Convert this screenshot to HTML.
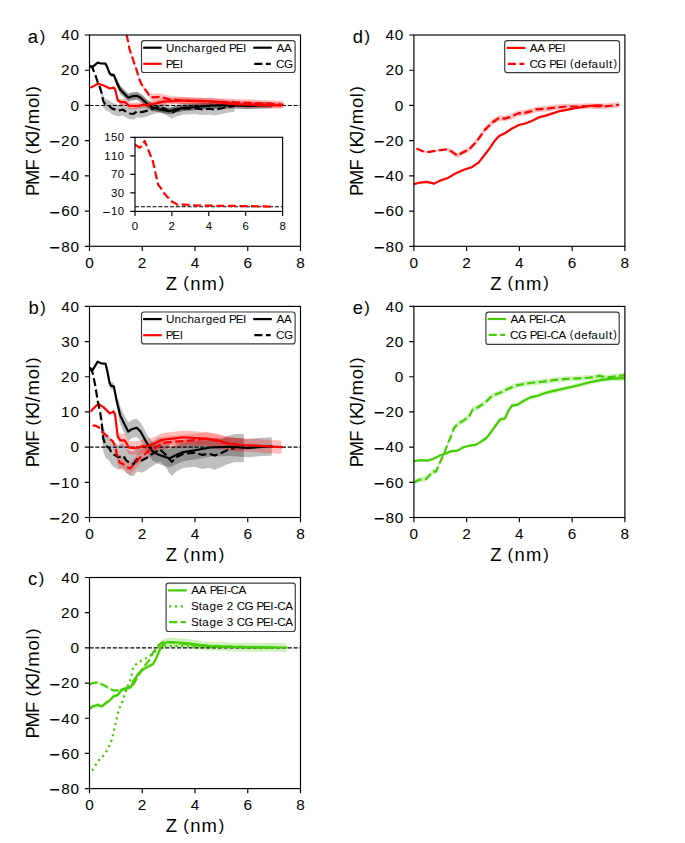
<!DOCTYPE html>
<html><head><meta charset="utf-8"><title>PMF figure</title>
<style>html,body{margin:0;padding:0;background:#fff;}body{width:685px;height:843px;overflow:hidden;font-family:"Liberation Sans",sans-serif;}svg{display:block;}</style>
</head><body>
<svg width="685" height="843" viewBox="0 0 685 843" font-family="'Liberation Sans', sans-serif"><defs><clipPath id="cA"><rect x="89.5" y="35" width="211" height="211.3"/></clipPath><clipPath id="cI"><rect x="135" y="137.3" width="147.6" height="74.1"/></clipPath><clipPath id="cB"><rect x="89.5" y="306.4" width="211" height="211.1"/></clipPath><clipPath id="cC"><rect x="89.5" y="577.5" width="211" height="211.1"/></clipPath><clipPath id="cD"><rect x="413.9" y="35" width="211" height="211.3"/></clipPath><clipPath id="cE"><rect x="413.9" y="306.4" width="211" height="211.1"/></clipPath></defs><rect width="685" height="843" fill="#fff"/><g clip-path="url(#cA)"><path d="M101.37 86.42 L101.63 87.3 L103.22 95.22 L105.59 98.92 L107.3 99.45 L109.02 99.97 L111.66 102.44 L113.77 103.32 L115.35 103.79 L116.93 104.26 L118.51 104.73 L120.01 104.44 L121.5 104.14 L123 103.85 L124.71 105.08 L126.42 106.31 L128.27 107.02 L130.12 107.72 L131.83 107.9 L133.55 108.07 L135.26 106.84 L136.97 105.61 L138.56 105.84 L140.14 106.08 L141.72 106.31 L143.31 105.9 L144.89 105.49 L146.47 105.08 L148.05 104.49 L149.63 103.91 L151.22 103.32 L152.71 102.85 L154.21 102.38 L155.7 101.91 L157.11 101.5 L158.51 101.09 L159.92 100.68 L161.37 101.38 L162.82 102.09 L164.27 102.79 L165.72 103.5 L167.24 104.38 L168.76 105.26 L170.27 106.14 L171.79 107.02 L173.28 106.26 L174.78 105.49 L176.27 104.73 L177.7 104.38 L179.12 104.02 L180.55 103.67 L181.97 103.32 L183.39 102.97 L184.85 102.9 L186.3 102.84 L187.75 102.77 L189.2 102.7 L190.65 102.64 L192.1 102.57 L193.55 102.51 L195 102.44 L196.42 102.65 L197.85 102.86 L199.27 103.07 L200.7 103.29 L202.12 103.5 L203.49 103.39 L204.86 103.29 L206.24 103.18 L207.61 103.07 L208.98 102.97 L210.43 103.19 L211.88 103.41 L213.33 103.63 L214.78 103.85 L216.21 103.57 L217.63 103.29 L219.05 103 L220.48 102.72 L221.9 102.44 L223.35 102.09 L224.8 101.74 L226.25 101.38 L227.71 101.03 L229.08 100.86 L230.45 100.68 L231.82 100.5 L233.19 100.33 L234.56 100.15 L234.56 111.77 L233.19 111.95 L231.82 112.12 L230.45 112.3 L229.08 112.48 L227.71 112.65 L226.25 113 L224.8 113.36 L223.35 113.71 L221.9 114.06 L220.48 114.34 L219.05 114.62 L217.63 114.91 L216.21 115.19 L214.78 115.47 L213.33 115.25 L211.88 115.03 L210.43 114.81 L208.98 114.59 L207.61 114.7 L206.24 114.8 L204.86 114.91 L203.49 115.01 L202.12 115.12 L200.7 114.91 L199.27 114.7 L197.85 114.48 L196.42 114.27 L195 114.06 L193.55 114.13 L192.1 114.19 L190.65 114.26 L189.2 114.33 L187.75 114.39 L186.3 114.46 L184.85 114.52 L183.39 114.59 L181.97 114.94 L180.55 115.29 L179.12 115.65 L177.7 116 L176.27 116.35 L174.78 117.11 L173.28 117.88 L171.79 118.64 L170.27 117.76 L168.76 116.88 L167.24 116 L165.72 115.12 L164.27 114.41 L162.82 113.71 L161.37 113 L159.92 112.3 L158.51 112.71 L157.11 113.12 L155.7 113.53 L154.21 114 L152.71 114.47 L151.22 114.94 L149.63 115.53 L148.05 116.12 L146.47 116.7 L144.89 117.11 L143.31 117.52 L141.72 117.94 L140.14 117.7 L138.56 117.47 L136.97 117.23 L135.26 118.46 L133.55 119.7 L131.83 119.52 L130.12 119.34 L128.27 118.64 L126.42 117.94 L124.71 116.7 L123 115.47 L121.5 115.76 L120.01 116.06 L118.51 116.35 L116.93 115.88 L115.35 115.41 L113.77 114.94 L111.66 114.06 L109.02 111.6 L107.3 111.07 L105.59 110.54 L103.22 106.84 L101.63 98.92 L101.37 98.04 Z" fill="#000" fill-opacity="0.24" stroke="none"/><path d="M107.96 67.34 L109.55 71.45 L111.13 73.03 L112.45 73.12 L113.77 73.21 L115.35 77.17 L116.93 78.84 L118.64 82.28 L120.36 85.71 L121.85 87.24 L123.35 88.76 L124.84 90.29 L126.56 91.96 L128.27 93.64 L129.99 93.02 L131.7 92.4 L133.37 92.17 L135.04 91.93 L136.71 91.7 L138.69 92.67 L140.67 93.64 L142.38 95.22 L144.1 96.81 L145.81 98.39 L147.53 99.97 L149.11 101.09 L150.69 102.21 L152.27 103.32 L153.72 104.64 L155.17 105.08 L156.62 105.52 L158.07 105.96 L159.5 106.21 L160.92 106.45 L162.35 106.7 L163.77 106.95 L165.2 107.19 L166.69 107.43 L168.19 107.66 L169.68 107.9 L171 107.55 L172.32 107.19 L173.64 106.84 L174.96 106.49 L176.36 106.2 L177.77 105.9 L179.18 105.61 L180.58 105.32 L181.99 105.02 L183.39 104.73 L184.85 104.62 L186.3 104.51 L187.75 104.4 L189.2 104.29 L190.65 104.18 L192.1 104.07 L193.55 103.96 L195 103.85 L196.39 103.72 L197.78 103.59 L199.17 103.46 L200.56 103.34 L201.95 103.21 L203.34 103.08 L204.73 102.95 L206.13 102.82 L207.52 102.7 L208.91 102.57 L210.3 102.44 L211.68 102.42 L213.07 102.4 L214.45 102.37 L215.84 102.35 L217.22 102.33 L218.61 102.31 L219.99 102.29 L221.38 102.26 L222.83 102.23 L224.28 102.21 L225.73 102.18 L227.18 102.15 L228.63 102.12 L230.08 102.09 L231.51 102.14 L232.94 102.19 L234.37 102.24 L235.81 102.29 L237.24 102.34 L238.67 102.39 L240.1 102.44 L241.63 102.51 L243.16 102.58 L244.69 102.65 L246.22 102.72 L247.75 102.79 L249.07 102.73 L250.39 102.66 L251.71 102.59 L253.03 102.53 L254.34 102.46 L255.66 102.4 L256.98 102.33 L258.3 102.26 L259.62 102.23 L260.94 102.19 L262.26 102.16 L263.58 102.13 L264.89 102.09 L266.21 102.06 L267.53 102.02 L268.85 101.99 L270.17 101.95 L271.49 101.92 L271.49 108.26 L270.17 108.29 L268.85 108.33 L267.53 108.36 L266.21 108.4 L264.89 108.43 L263.58 108.46 L262.26 108.5 L260.94 108.53 L259.62 108.57 L258.3 108.6 L256.98 108.67 L255.66 108.73 L254.34 108.8 L253.03 108.87 L251.71 108.93 L250.39 109 L249.07 109.07 L247.75 109.13 L246.22 109.06 L244.69 108.99 L243.16 108.92 L241.63 108.85 L240.1 108.78 L238.67 108.73 L237.24 108.68 L235.81 108.63 L234.37 108.58 L232.94 108.53 L231.51 108.48 L230.08 108.43 L228.63 108.46 L227.18 108.49 L225.73 108.51 L224.28 108.54 L222.83 108.57 L221.38 108.6 L219.99 108.62 L218.61 108.65 L217.22 108.67 L215.84 108.69 L214.45 108.71 L213.07 108.73 L211.68 108.76 L210.3 108.78 L208.91 108.91 L207.52 109.04 L206.13 109.16 L204.73 109.29 L203.34 109.42 L201.95 109.55 L200.56 109.68 L199.17 109.8 L197.78 109.93 L196.39 110.06 L195 110.19 L193.55 110.3 L192.1 110.41 L190.65 110.52 L189.2 110.63 L187.75 110.74 L186.3 110.85 L184.85 110.96 L183.39 111.07 L181.99 111.36 L180.58 111.65 L179.18 111.95 L177.77 112.24 L176.36 112.54 L174.96 112.83 L173.64 113.18 L172.32 113.53 L171 113.89 L169.68 114.24 L168.19 114 L166.69 113.77 L165.2 113.53 L163.77 113.29 L162.35 113.04 L160.92 112.79 L159.5 112.55 L158.07 112.3 L156.62 111.86 L155.17 111.42 L153.72 110.98 L152.27 111.42 L150.69 110.3 L149.11 109.19 L147.53 108.07 L145.81 106.49 L144.1 104.91 L142.38 103.32 L140.67 101.74 L138.69 100.77 L136.71 99.8 L135.04 100.03 L133.37 100.27 L131.7 100.5 L129.99 101.12 L128.27 101.74 L126.56 100.06 L124.84 98.39 L123.35 96.86 L121.85 95.34 L120.36 93.81 L118.64 90.38 L116.93 86.94 L115.35 80.69 L113.77 76.73 L112.45 76.64 L111.13 76.56 L109.55 74.97 L107.96 70.86 Z" fill="#000" fill-opacity="0.42" stroke="none"/><path d="M113.24 86.3 L113.5 86.24 L115.08 87.65 L116.4 93.2 L117.72 98.74 L120.36 98.92 L121.85 98.92 L123.35 98.92 L124.84 98.92 L125.37 99.27 L127.08 100.86 L128.8 102.44 L130.38 102.56 L131.96 102.67 L133.55 102.79 L135 102.7 L136.45 102.62 L137.9 102.53 L139.35 102.44 L141.06 102 L142.78 101.56 L144.62 101.74 L146.47 101.91 L148.05 101.62 L149.63 101.32 L151.22 101.03 L152.71 100.74 L154.21 100.44 L155.7 100.15 L157.15 99.8 L158.6 99.45 L160.05 99.09 L161.5 98.74 L162.95 98.61 L164.41 98.48 L165.86 98.35 L167.31 98.21 L168.8 98.16 L170.3 98.1 L171.79 98.04 L173.37 97.95 L174.96 97.86 L176.36 97.77 L177.77 97.69 L179.18 97.6 L180.58 97.51 L181.99 97.42 L183.39 97.33 L184.85 97.38 L186.3 97.42 L187.75 97.47 L189.2 97.51 L190.65 97.55 L192.1 97.6 L193.55 97.64 L195 97.69 L196.45 97.73 L197.9 97.77 L199.35 97.82 L200.8 97.86 L202.25 97.91 L203.7 97.95 L205.15 97.99 L206.61 98.04 L208.09 98.15 L209.57 98.26 L211.06 98.37 L212.54 98.48 L214.02 98.59 L215.51 98.7 L216.99 98.81 L218.47 98.92 L219.92 99.14 L221.38 99.36 L222.83 99.58 L224.28 99.8 L225.73 100.02 L227.18 100.24 L228.63 100.46 L230.08 100.68 L231.51 100.75 L232.94 100.83 L234.37 100.91 L235.81 100.98 L237.24 101.06 L238.67 101.13 L240.1 101.21 L241.54 101.23 L242.97 101.25 L244.41 101.27 L245.85 101.29 L247.28 101.31 L248.72 101.32 L250.15 101.34 L251.59 101.36 L253.03 101.38 L254.34 101.44 L255.66 101.49 L256.98 101.54 L258.3 101.59 L259.62 101.65 L260.94 101.7 L262.26 101.75 L263.58 101.81 L264.89 101.86 L266.21 101.91 L267.6 101.94 L268.99 101.98 L270.38 102.01 L271.78 102.04 L273.17 102.07 L274.56 102.1 L275.95 102.14 L277.34 102.17 L278.73 102.2 L280.12 102.23 L281.51 102.26 L281.51 108.6 L280.12 108.57 L278.73 108.54 L277.34 108.51 L275.95 108.47 L274.56 108.44 L273.17 108.41 L271.78 108.38 L270.38 108.35 L268.99 108.31 L267.6 108.28 L266.21 108.25 L264.89 108.2 L263.58 108.15 L262.26 108.09 L260.94 108.04 L259.62 107.99 L258.3 107.93 L256.98 107.88 L255.66 107.83 L254.34 107.78 L253.03 107.72 L251.59 107.7 L250.15 107.68 L248.72 107.66 L247.28 107.64 L245.85 107.62 L244.41 107.61 L242.97 107.59 L241.54 107.57 L240.1 107.55 L238.67 107.47 L237.24 107.4 L235.81 107.32 L234.37 107.24 L232.94 107.17 L231.51 107.09 L230.08 107.02 L228.63 106.8 L227.18 106.58 L225.73 106.36 L224.28 106.14 L222.83 105.92 L221.38 105.7 L219.92 105.48 L218.47 105.26 L216.99 105.15 L215.51 105.04 L214.02 104.93 L212.54 104.82 L211.06 104.71 L209.57 104.6 L208.09 104.49 L206.61 104.38 L205.15 104.33 L203.7 104.29 L202.25 104.24 L200.8 104.2 L199.35 104.16 L197.9 104.11 L196.45 104.07 L195 104.02 L193.55 103.98 L192.1 103.94 L190.65 103.89 L189.2 103.85 L187.75 103.8 L186.3 103.76 L184.85 103.72 L183.39 103.67 L181.99 103.76 L180.58 103.85 L179.18 103.94 L177.77 104.02 L176.36 104.11 L174.96 104.2 L173.37 104.29 L171.79 104.38 L170.3 104.44 L168.8 104.49 L167.31 104.55 L165.86 104.68 L164.41 104.82 L162.95 104.95 L161.5 105.08 L160.05 105.43 L158.6 105.79 L157.15 106.14 L155.7 106.49 L154.21 106.78 L152.71 107.08 L151.22 107.37 L149.63 107.66 L148.05 107.96 L146.47 108.25 L144.62 108.07 L142.78 107.9 L141.06 108.34 L139.35 108.78 L137.9 108.87 L136.45 108.96 L135 109.04 L133.55 109.13 L131.96 109.01 L130.38 108.9 L128.8 108.78 L127.08 107.19 L125.37 105.61 L124.84 105.26 L123.35 105.26 L121.85 105.26 L120.36 105.26 L117.72 101.56 L116.4 96.01 L115.08 90.47 L113.5 89.06 L113.24 89.12 Z" fill="#ff0000" fill-opacity="0.3" stroke="none"/><path d="M123.79 23.99 L124.84 27.08 L126.82 33.94 L128.14 39.93 L129.46 46.97 L131.65 54.02 L132.97 57.54 L135.16 64.58 L136.9 68.98 L138.66 75.85 L141.27 82.01 L143.03 84.66 L144.78 87.3 L146.31 89.28 L147.84 91.26 L149.63 95.22 L151.13 93.58 L152.62 93.69 L154.12 93.81 L155.64 93.68 L157.15 93.55 L158.67 93.42 L160.19 93.28 L161.59 93.67 L163 94.05 L164.41 94.43 L165.81 94.81 L167.22 95.19 L168.62 95.57 L169.94 95.71 L171.26 95.85 L172.58 96 L173.9 96.14 L175.22 96.28 L176.54 96.42 L177.86 96.56 L179.18 96.7 L180.49 96.84 L181.81 96.98 L183.13 97.05 L184.45 97.12 L185.77 97.19 L187.09 97.26 L188.41 97.33 L189.72 97.4 L191.04 97.47 L192.36 97.54 L193.68 97.62 L195 97.69 L196.32 97.72 L197.64 97.76 L198.96 97.79 L200.28 97.83 L201.59 97.86 L202.91 97.9 L204.23 97.93 L205.55 97.97 L206.87 98 L208.19 98.04 L209.51 98.07 L210.82 98.11 L212.14 98.14 L213.46 98.18 L214.78 98.21 L216.1 98.25 L217.42 98.28 L218.74 98.32 L220.06 98.35 L221.38 98.39 L222.69 98.43 L224.01 98.48 L225.33 98.52 L226.65 98.57 L227.97 98.61 L229.29 98.65 L230.61 98.7 L231.93 98.74 L233.24 98.79 L234.56 98.83 L235.88 98.87 L237.2 98.92 L238.52 98.96 L239.84 99.01 L241.16 99.05 L242.47 99.09 L243.79 99.14 L245.11 99.18 L246.43 99.23 L247.75 99.27 L249.07 99.33 L250.39 99.39 L251.71 99.46 L253.03 99.52 L254.34 99.58 L255.66 99.64 L256.98 99.7 L258.3 99.76 L259.62 99.83 L260.94 99.89 L262.26 99.95 L263.57 100.01 L264.89 100.07 L266.21 100.13 L267.53 100.19 L268.85 100.26 L270.17 100.32 L271.49 100.38 L272.81 100.44 L274.12 100.5 L275.48 100.58 L276.84 100.65 L278.19 100.73 L279.55 100.8 L280.91 100.88 L282.26 100.96 L283.62 101.03 L283.62 108.07 L282.26 108 L280.91 107.92 L279.55 107.85 L278.19 107.77 L276.84 107.7 L275.48 107.62 L274.12 107.55 L272.81 107.48 L271.49 107.42 L270.17 107.36 L268.85 107.3 L267.53 107.24 L266.21 107.18 L264.89 107.11 L263.57 107.05 L262.26 106.99 L260.94 106.93 L259.62 106.87 L258.3 106.81 L256.98 106.75 L255.66 106.68 L254.34 106.62 L253.03 106.56 L251.71 106.5 L250.39 106.44 L249.07 106.38 L247.75 106.31 L246.43 106.27 L245.11 106.23 L243.79 106.18 L242.47 106.14 L241.16 106.09 L239.84 106.05 L238.52 106.01 L237.2 105.96 L235.88 105.92 L234.56 105.87 L233.24 105.83 L231.93 105.79 L230.61 105.74 L229.29 105.7 L227.97 105.65 L226.65 105.61 L225.33 105.57 L224.01 105.52 L222.69 105.48 L221.38 105.43 L220.06 105.4 L218.74 105.36 L217.42 105.33 L216.1 105.29 L214.78 105.26 L213.46 105.22 L212.14 105.19 L210.82 105.15 L209.51 105.12 L208.19 105.08 L206.87 105.05 L205.55 105.01 L204.23 104.98 L202.91 104.94 L201.59 104.91 L200.28 104.87 L198.96 104.83 L197.64 104.8 L196.32 104.76 L195 104.73 L193.68 104.66 L192.36 104.59 L191.04 104.52 L189.72 104.45 L188.41 104.38 L187.09 104.31 L185.77 104.24 L184.45 104.17 L183.13 104.1 L181.81 104.02 L180.49 103.88 L179.18 103.74 L177.86 103.6 L176.54 103.46 L175.22 103.32 L173.9 103.18 L172.58 103.04 L171.26 102.9 L169.94 102.76 L168.62 102.62 L167.22 102.23 L165.81 101.85 L164.41 101.47 L163 101.09 L161.59 100.71 L160.19 100.33 L158.67 100.46 L157.15 100.59 L155.64 100.72 L154.12 100.86 L152.62 100.74 L151.13 100.62 L149.63 98.74 L147.84 94.78 L146.31 92.8 L144.78 90.82 L143.03 88.18 L141.27 85.54 L138.66 79.37 L136.9 72.51 L135.16 68.1 L132.97 61.06 L131.65 57.54 L129.46 50.5 L128.14 43.45 L126.82 37.47 L124.84 30.6 L123.79 27.52 Z" fill="#ff0000" fill-opacity="0.25" stroke="none"/><path d="M89.5 105.43 H300.5" stroke="#000" stroke-width="1.1" stroke-dasharray="4.07 1.76" fill="none"/><path d="M89.5 66.17 L90.29 65.99 L92.4 67.05 L94.51 65.29 L97.68 62.65 L101.11 63.53 L105.59 63.7 L107.17 67.05 L109.55 73.21 L111.13 74.79 L113.77 74.97 L116.93 82.89 L120.36 89.76 L124.84 94.34 L128.27 97.69 L131.7 96.45 L136.71 95.75 L140.67 97.69 L144.1 100.86 L147.53 104.02 L152.27 107.37 L158.07 109.13 L165.2 110.36 L169.68 111.07 L174.96 109.66 L183.39 107.9 L195 107.02 L210.3 105.61 L221.38 105.43 L230.08 105.26 L240.1 105.61 L247.75 105.96 L258.3 105.43 L271.75 105.08" fill="none" stroke="#000000" stroke-width="2.18" stroke-linejoin="round" stroke-linecap="square"/><path d="M91.35 87.3 L91.61 86.94 L93.98 85.89 L98.2 83.78 L103.74 85.54 L109.81 88.53 L113.5 87.65 L115.08 89.06 L117.72 100.15 L120.36 102.09 L124.84 102.09 L125.37 102.44 L128.8 105.61 L133.55 105.96 L139.35 105.61 L142.78 104.73 L146.47 105.08 L151.22 104.2 L155.7 103.32 L161.5 101.91 L167.31 101.38 L171.79 101.21 L174.96 101.03 L183.39 100.5 L195 100.86 L206.61 101.21 L218.47 102.09 L230.08 103.85 L240.1 104.38 L253.03 104.55 L266.21 105.08 L281.51 105.43" fill="none" stroke="#ff0000" stroke-width="2.18" stroke-linejoin="round" stroke-linecap="square"/><path d="M89.5 65.64 L90.29 65.99 L92.67 68.28 L95.04 74.09 L96.89 79.73 L98.47 84.3 L100.05 87.82 L101.63 93.11 L103.22 101.03 L105.59 104.73 L109.02 105.79 L111.66 108.25 L113.77 109.13 L118.51 110.54 L123 109.66 L126.42 112.12 L130.12 113.53 L133.55 113.89 L136.97 111.42 L141.72 112.12 L146.47 110.89 L151.22 109.13 L155.7 107.72 L159.92 106.49 L165.72 109.31 L171.79 112.83 L176.27 110.54 L183.39 108.78 L195 108.25 L202.12 109.31 L208.98 108.78 L214.78 109.66 L221.9 108.25 L227.71 106.84 L234.56 105.96" fill="none" stroke="#000000" stroke-width="2.18" stroke-linejoin="round" stroke-linecap="butt" stroke-dasharray="8.07 3.49"/><path d="M89.5 -128.76 L91.35 -128.05 L96.09 -119.07 L100.05 -126.64 L103.22 -144.61 L106.38 -125.06 L110.6 -97.06 L114.82 -69.24 L116.93 -47.05 L119.04 -19.23 L121.15 4.54 L122.73 22.67 L124.84 28.84 L126.82 35.7 L128.14 41.69 L129.46 48.73 L131.65 55.78 L132.97 59.3 L135.16 66.34 L136.9 70.74 L138.66 77.61 L141.27 83.78 L144.78 89.06 L147.84 93.02 L149.63 96.98 L154.12 97.33 L160.19 96.81 L168.62 99.09 L181.81 100.5 L195 101.21 L221.38 101.91 L247.75 102.79 L274.12 104.02 L283.62 104.55" fill="none" stroke="#ff0000" stroke-width="2.18" stroke-linejoin="round" stroke-linecap="butt" stroke-dasharray="8.07 3.49"/></g><rect x="89.5" y="35" width="211" height="211.3" fill="none" stroke="#000" stroke-width="1.16"/><path d="M89.5 246.3 V251 M142.25 246.3 V251 M195 246.3 V251 M247.75 246.3 V251 M300.5 246.3 V251 M89.5 35 H84.8 M89.5 70.22 H84.8 M89.5 105.43 H84.8 M89.5 140.65 H84.8 M89.5 175.87 H84.8 M89.5 211.08 H84.8 M89.5 246.3 H84.8" stroke="#000" stroke-width="1.16" fill="none"/><text transform="translate(84.89 267.7)" x="0.34" font-size="15.37" fill="#000">0</text><text transform="translate(137.64 267.7)" x="0.14" font-size="15.37" fill="#000">2</text><text transform="translate(190.39 267.7)" x="0.33" font-size="15.37" fill="#000">4</text><text transform="translate(243.14 267.7)" x="0.34" font-size="15.37" fill="#000">6</text><text transform="translate(295.89 267.7)" x="0.34" font-size="15.37" fill="#000">8</text><text transform="translate(60.85 40.28)" x="0.33 9.56" font-size="15.37" fill="#000">40</text><text transform="translate(60.85 75.49)" x="0.14 9.56" font-size="15.37" fill="#000">20</text><text transform="translate(70.07 110.71)" x="0.34" font-size="15.37" fill="#000">0</text><text transform="translate(48.7 145.93)" font-size="15.37" fill="#000"><tspan x="0.62" dy="2.16" font-size="18.68">−</tspan><tspan x="12.29 21.71" dy="-2.16">20</tspan></text><text transform="translate(48.7 181.14)" font-size="15.37" fill="#000"><tspan x="0.62" dy="2.16" font-size="18.68">−</tspan><tspan x="12.48 21.71" dy="-2.16">40</tspan></text><text transform="translate(48.7 216.36)" font-size="15.37" fill="#000"><tspan x="0.62" dy="2.16" font-size="18.68">−</tspan><tspan x="12.48 21.71" dy="-2.16">60</tspan></text><text transform="translate(48.7 251.58)" font-size="15.37" fill="#000"><tspan x="0.62" dy="2.16" font-size="18.68">−</tspan><tspan x="12.49 21.71" dy="-2.16">80</tspan></text><rect x="141.5" y="40.6" width="153.6" height="31.9" rx="2.5" ry="2.5" fill="#fff" fill-opacity="0.8" stroke="#3a3a3a" stroke-width="1.16"/><path d="M144.2 47.7 H160.6" stroke="#000000" stroke-width="2.18" stroke-linecap="square" fill="none"/><text transform="translate(166.15 51.71)" x="-0.18 8.32 15 21.33 27.76 35.32 39.49 46.26 53.04 59.97 62.95 69.52 76.93" font-size="11.66" fill="#000">Uncharged PEI</text><path d="M144.2 63.8 H160.6" stroke="#ff0000" stroke-width="2.18" stroke-linecap="square" fill="none"/><text transform="translate(166.15 67.81)" x="-0.39 6.18 13.59" font-size="11.66" fill="#000">PEI</text><path d="M254.3 47.7 H270.7" stroke="#000000" stroke-width="2.18" stroke-linecap="square" fill="none"/><text transform="translate(276.5 51.71)" x="-0.13 7.4" font-size="11.66" fill="#000">AA</text><path d="M254.3 63.8 H270.7" stroke="#000000" stroke-width="2.18" stroke-dasharray="8.07 3.49" fill="none"/><text transform="translate(276.5 67.81)" x="-0.44 7.41" font-size="11.66" fill="#000">CG</text><rect x="135" y="137.3" width="147.6" height="74.1" fill="#fff"/><g clip-path="url(#cI)"><path d="M135 206.77 H282.6" stroke="#000" stroke-width="1.1" stroke-dasharray="4.07 1.76" fill="none"/><path d="M135 145.17 L136.29 145.36 L139.61 147.72 L142.38 145.73 L144.59 141 L146.81 146.15 L149.76 153.51 L152.71 160.83 L154.19 166.66 L155.66 173.98 L157.14 180.23 L158.25 185 L159.72 186.62 L161.11 188.43 L162.03 190 L162.95 191.86 L164.48 193.71 L165.41 194.63 L166.94 196.49 L168.15 197.65 L169.39 199.45 L171.22 201.07 L173.67 202.46 L175.81 203.5 L177.07 204.55 L180.2 204.64 L184.45 204.5 L190.35 205.1 L199.58 205.47 L208.8 205.66 L227.25 205.84 L245.7 206.07 L264.15 206.4 L270.79 206.54" fill="none" stroke="#ff0000" stroke-width="2.18" stroke-linejoin="round" stroke-linecap="butt" stroke-dasharray="8.07 3.49"/></g><rect x="135" y="137.3" width="147.6" height="74.1" fill="none" stroke="#000" stroke-width="1.16"/><path d="M135 211.4 V216.1 M171.9 211.4 V216.1 M208.8 211.4 V216.1 M245.7 211.4 V216.1 M282.6 211.4 V216.1 M135 137.3 H130.3 M135 155.83 H130.3 M135 174.35 H130.3 M135 192.88 H130.3 M135 211.4 H130.3" stroke="#000" stroke-width="1.16" fill="none"/><text transform="translate(131.6 230)" x="0.25" font-size="11.34" fill="#000">0</text><text transform="translate(168.5 230)" x="0.11" font-size="11.34" fill="#000">2</text><text transform="translate(205.4 230)" x="0.25" font-size="11.34" fill="#000">4</text><text transform="translate(242.3 230)" x="0.25" font-size="11.34" fill="#000">6</text><text transform="translate(279.2 230)" x="0.25" font-size="11.34" fill="#000">8</text><text transform="translate(103.98 141.19)" x="0.19 7.02 13.86" font-size="11.34" fill="#000">150</text><text transform="translate(103.98 159.72)" x="0.19 7 13.86" font-size="11.34" fill="#000">110</text><text transform="translate(110.78 178.24)" x="0.23 7.06" font-size="11.34" fill="#000">70</text><text transform="translate(110.78 196.77)" x="0.26 7.06" font-size="11.34" fill="#000">30</text><text transform="translate(101.82 215.29)" font-size="11.34" fill="#000"><tspan x="0.46" dy="1.73" font-size="13.78">−</tspan><tspan x="9.16 16.02" dy="-1.73">10</tspan></text><g clip-path="url(#cB)"><path d="M101.37 408.43 L101.63 410.19 L103.22 426.02 L105.59 433.41 L107.3 434.47 L109.02 435.52 L111.66 440.45 L113.77 442.21 L115.35 443.15 L116.93 444.08 L118.51 445.02 L120.01 444.44 L121.5 443.85 L123 443.26 L124.71 445.73 L126.42 448.19 L128.27 449.6 L130.12 451 L131.83 451.36 L133.55 451.71 L135.26 449.24 L136.97 446.78 L138.56 447.25 L140.14 447.72 L141.72 448.19 L143.31 447.37 L144.89 446.55 L146.47 445.73 L148.05 444.55 L149.63 443.38 L151.22 442.21 L152.71 441.27 L154.21 440.33 L155.7 439.39 L157.11 438.57 L158.51 437.75 L159.92 436.93 L161.37 438.34 L162.82 439.74 L164.27 441.15 L165.72 442.56 L167.24 444.32 L168.76 444.32 L170.27 446.08 L171.79 447.84 L173.28 446.31 L174.78 444.79 L176.27 443.26 L177.7 442.56 L179.12 441.86 L180.55 441.15 L181.97 440.45 L183.39 439.74 L184.85 439.61 L186.3 439.48 L187.75 439.35 L189.2 439.22 L190.65 439.09 L192.1 438.95 L193.55 438.82 L195 438.69 L196.42 439.11 L197.85 439.53 L199.27 439.96 L200.7 440.38 L202.12 440.8 L203.49 440.59 L204.86 440.38 L206.24 440.17 L207.61 439.96 L208.98 439.74 L210.43 440.18 L211.88 440.62 L213.33 441.06 L214.78 441.5 L216.21 440.94 L217.63 440.38 L219.05 439.82 L220.48 439.25 L221.9 438.69 L223.35 437.99 L224.8 437.28 L226.25 436.58 L227.71 435.87 L229.08 435.52 L230.45 435.17 L231.82 434.82 L233.19 434.47 L234.56 434.12 L236.1 434.12 L237.64 434.12 L239.18 434.12 L240.72 434.12 L242.26 434.12 L243.79 434.12 L243.79 462.26 L242.26 462.26 L240.72 462.26 L239.18 462.26 L237.64 462.26 L236.1 462.26 L234.56 462.26 L233.19 462.61 L231.82 462.97 L230.45 463.32 L229.08 463.67 L227.71 464.02 L226.25 464.72 L224.8 465.43 L223.35 466.13 L221.9 466.84 L220.48 467.4 L219.05 467.96 L217.63 468.52 L216.21 469.09 L214.78 469.65 L213.33 469.21 L211.88 468.77 L210.43 468.33 L208.98 467.89 L207.61 468.1 L206.24 468.31 L204.86 468.52 L203.49 468.74 L202.12 468.95 L200.7 468.52 L199.27 468.1 L197.85 467.68 L196.42 467.26 L195 466.84 L193.55 466.97 L192.1 467.1 L190.65 467.23 L189.2 467.36 L187.75 467.5 L186.3 467.63 L184.85 467.76 L183.39 467.89 L181.97 468.6 L180.55 469.3 L179.12 470 L177.7 470.71 L176.27 471.41 L174.78 472.93 L173.28 474.46 L171.79 475.98 L170.27 474.22 L168.76 472.47 L167.24 468.95 L165.72 467.19 L164.27 465.78 L162.82 464.37 L161.37 462.97 L159.92 461.56 L158.51 462.38 L157.11 463.2 L155.7 464.02 L154.21 464.96 L152.71 465.9 L151.22 466.84 L149.63 468.01 L148.05 469.18 L146.47 470.35 L144.89 471.18 L143.31 472 L141.72 472.82 L140.14 472.35 L138.56 471.88 L136.97 471.41 L135.26 473.87 L133.55 476.34 L131.83 475.98 L130.12 475.63 L128.27 474.22 L126.42 472.82 L124.71 470.35 L123 467.89 L121.5 468.48 L120.01 469.06 L118.51 469.65 L116.93 468.71 L115.35 467.77 L113.77 466.84 L111.66 465.08 L109.02 460.15 L107.3 459.1 L105.59 458.04 L103.22 450.65 L101.63 434.82 L101.37 433.06 Z" fill="#000" fill-opacity="0.25" stroke="none"/><path d="M107.96 371.02 L109.55 379.23 L111.13 382.4 L112.45 382.57 L113.77 382.75 L115.35 390.66 L116.93 398.58 L118.64 399.81 L120.36 406.67 L121.85 409.72 L123.35 412.77 L124.84 415.82 L126.56 419.16 L128.27 422.5 L129.99 421.27 L131.7 420.04 L133.37 419.57 L135.04 419.1 L136.71 418.63 L138.69 420.57 L140.67 422.5 L142.38 425.67 L144.1 428.84 L145.81 432 L147.53 435.17 L149.11 437.4 L150.69 439.63 L152.27 441.86 L153.72 442.74 L155.17 443.62 L156.62 444.49 L158.07 445.37 L159.5 445.87 L160.92 446.36 L162.35 446.85 L163.77 447.34 L165.2 447.84 L166.69 448.31 L168.19 448.78 L169.68 449.24 L171 448.54 L172.32 447.84 L173.64 447.13 L174.96 446.43 L176.36 445.84 L177.77 445.26 L179.18 444.67 L180.58 444.08 L181.99 443.5 L183.39 442.91 L184.85 442.69 L186.3 442.47 L187.75 442.25 L189.2 442.03 L190.65 441.81 L192.1 441.59 L193.55 441.37 L195 441.15 L196.39 440.9 L197.78 440.64 L199.17 440.38 L200.56 440.13 L201.95 439.87 L203.34 439.62 L204.73 439.36 L206.13 439.11 L207.52 438.85 L208.91 438.59 L210.3 438.34 L211.68 438.29 L213.07 438.25 L214.45 438.21 L215.84 438.16 L217.22 438.12 L218.61 438.07 L219.99 438.03 L221.38 437.99 L222.83 437.93 L224.28 437.87 L225.73 437.81 L227.18 437.75 L228.63 437.69 L230.08 437.63 L231.51 437.73 L232.94 437.83 L234.37 437.94 L235.81 438.04 L237.24 438.14 L238.67 438.24 L240.1 438.34 L241.63 438.48 L243.16 438.62 L244.69 438.76 L246.22 438.9 L247.75 439.04 L249.07 438.91 L250.39 438.78 L251.71 438.65 L253.03 438.51 L254.34 438.38 L255.66 438.25 L256.98 438.12 L258.3 437.99 L259.65 437.92 L260.99 437.84 L262.34 437.77 L263.68 437.7 L265.03 437.63 L266.37 437.56 L267.72 437.49 L269.06 437.42 L270.41 437.35 L271.75 437.28 L271.75 455.58 L270.41 455.65 L269.06 455.72 L267.72 455.79 L266.37 455.86 L265.03 455.93 L263.68 456 L262.34 456.07 L260.99 456.14 L259.65 456.21 L258.3 456.28 L256.98 456.41 L255.66 456.54 L254.34 456.68 L253.03 456.81 L251.71 456.94 L250.39 457.07 L249.07 457.2 L247.75 457.34 L246.22 457.2 L244.69 457.06 L243.16 456.91 L241.63 456.77 L240.1 456.63 L238.67 456.53 L237.24 456.43 L235.81 456.33 L234.37 456.23 L232.94 456.13 L231.51 456.03 L230.08 455.93 L228.63 455.99 L227.18 456.05 L225.73 456.11 L224.28 456.16 L222.83 456.22 L221.38 456.28 L219.99 456.32 L218.61 456.37 L217.22 456.41 L215.84 456.46 L214.45 456.5 L213.07 456.54 L211.68 456.59 L210.3 456.63 L208.91 456.89 L207.52 457.14 L206.13 457.4 L204.73 457.66 L203.34 457.91 L201.95 458.17 L200.56 458.42 L199.17 458.68 L197.78 458.94 L196.39 459.19 L195 459.45 L193.55 459.67 L192.1 459.89 L190.65 460.11 L189.2 460.33 L187.75 460.55 L186.3 460.77 L184.85 460.99 L183.39 461.21 L181.99 461.79 L180.58 462.38 L179.18 462.97 L177.77 463.55 L176.36 464.14 L174.96 464.73 L173.64 465.43 L172.32 466.13 L171 466.84 L169.68 467.54 L168.19 467.07 L166.69 466.6 L165.2 466.13 L163.77 465.64 L162.35 465.15 L160.92 464.65 L159.5 464.16 L158.07 463.67 L156.62 462.79 L155.17 461.91 L153.72 461.03 L152.27 460.15 L150.69 457.92 L149.11 455.69 L147.53 453.47 L145.81 450.3 L144.1 447.13 L142.38 443.97 L140.67 440.8 L138.69 438.87 L136.71 436.93 L135.04 437.4 L133.37 437.87 L131.7 438.34 L129.99 439.57 L128.27 440.8 L126.56 437.46 L124.84 434.12 L123.35 431.07 L121.85 428.02 L120.36 424.97 L118.64 418.11 L116.93 405.62 L115.35 397.7 L113.77 389.78 L112.45 389.61 L111.13 389.43 L109.55 386.27 L107.96 378.06 Z" fill="#000" fill-opacity="0.25" stroke="none"/><path d="M113.24 408.56 L113.5 408.43 L115.08 411.25 L116.4 422.33 L117.72 433.41 L120.36 433.76 L121.85 433.76 L123.35 433.76 L124.84 433.76 L125.37 434.47 L127.08 437.63 L128.8 440.8 L130.38 441.03 L131.96 441.27 L133.55 441.5 L135 441.33 L136.45 441.15 L137.9 440.98 L139.35 440.8 L141.06 439.92 L142.78 439.04 L144.62 439.39 L146.47 439.74 L148.05 439.16 L149.63 438.57 L151.22 437.99 L152.71 437.4 L154.21 436.81 L155.7 436.23 L157.15 435.52 L158.6 434.82 L160.05 434.12 L161.5 433.41 L162.95 433.15 L164.41 432.88 L165.86 432.62 L167.31 432.36 L168.8 432.24 L170.3 432.12 L171.79 432 L173.37 431.83 L174.96 431.65 L176.36 431.48 L177.77 431.3 L179.18 431.12 L180.58 430.95 L181.99 430.77 L183.39 430.6 L184.85 430.69 L186.3 430.77 L187.75 430.86 L189.2 430.95 L190.65 431.04 L192.1 431.12 L193.55 431.21 L195 431.3 L196.45 431.39 L197.9 431.48 L199.35 431.56 L200.8 431.65 L202.25 431.74 L203.7 431.83 L205.15 431.92 L206.61 432 L208.09 432.22 L209.57 432.44 L211.06 432.66 L212.54 432.88 L214.02 433.1 L215.51 433.32 L216.99 433.54 L218.47 433.76 L219.92 434.2 L221.38 434.64 L222.83 435.08 L224.28 435.52 L225.73 435.96 L227.18 436.4 L228.63 436.84 L230.08 437.28 L231.51 437.43 L232.94 437.58 L234.37 437.73 L235.81 437.89 L237.24 438.04 L238.67 438.19 L240.1 438.34 L241.54 438.38 L242.97 438.42 L244.41 438.45 L245.85 438.49 L247.28 438.53 L248.72 438.57 L250.15 438.61 L251.59 438.65 L253.03 438.69 L254.34 438.79 L255.66 438.9 L256.98 439.01 L258.3 439.11 L259.62 439.22 L260.94 439.32 L262.26 439.43 L263.58 439.53 L264.89 439.64 L266.21 439.74 L267.6 439.81 L268.99 439.87 L270.38 439.94 L271.78 440 L273.17 440.06 L274.56 440.13 L275.95 440.19 L277.34 440.26 L278.73 440.32 L280.12 440.38 L281.51 440.45 L281.51 453.82 L280.12 453.75 L278.73 453.69 L277.34 453.63 L275.95 453.56 L274.56 453.5 L273.17 453.43 L271.78 453.37 L270.38 453.31 L268.99 453.24 L267.6 453.18 L266.21 453.11 L264.89 453.01 L263.58 452.9 L262.26 452.8 L260.94 452.69 L259.62 452.59 L258.3 452.48 L256.98 452.38 L255.66 452.27 L254.34 452.16 L253.03 452.06 L251.59 452.02 L250.15 451.98 L248.72 451.94 L247.28 451.9 L245.85 451.86 L244.41 451.82 L242.97 451.79 L241.54 451.75 L240.1 451.71 L238.67 451.56 L237.24 451.41 L235.81 451.25 L234.37 451.1 L232.94 450.95 L231.51 450.8 L230.08 450.65 L228.63 450.21 L227.18 449.77 L225.73 449.33 L224.28 448.89 L222.83 448.45 L221.38 448.01 L219.92 447.57 L218.47 447.13 L216.99 446.91 L215.51 446.69 L214.02 446.47 L212.54 446.25 L211.06 446.03 L209.57 445.81 L208.09 445.59 L206.61 445.37 L205.15 445.29 L203.7 445.2 L202.25 445.11 L200.8 445.02 L199.35 444.93 L197.9 444.85 L196.45 444.76 L195 444.67 L193.55 444.58 L192.1 444.49 L190.65 444.41 L189.2 444.32 L187.75 444.23 L186.3 444.14 L184.85 444.05 L183.39 443.97 L181.99 444.14 L180.58 444.32 L179.18 444.49 L177.77 444.67 L176.36 444.85 L174.96 445.02 L173.37 445.2 L171.79 445.37 L170.3 445.49 L168.8 445.61 L167.31 445.73 L165.86 445.99 L164.41 446.25 L162.95 446.52 L161.5 446.78 L160.05 447.49 L158.6 448.19 L157.15 448.89 L155.7 449.6 L154.21 450.18 L152.71 450.77 L151.22 451.36 L149.63 451.94 L148.05 452.53 L146.47 453.11 L144.62 452.76 L142.78 452.41 L141.06 453.29 L139.35 454.17 L137.9 454.35 L136.45 454.52 L135 454.7 L133.55 454.87 L131.96 454.64 L130.38 454.4 L128.8 454.17 L127.08 451 L125.37 447.84 L124.84 447.13 L123.35 447.13 L121.85 447.13 L120.36 447.13 L117.72 439.74 L116.4 428.66 L115.08 417.58 L113.5 414.76 L113.24 414.89 Z" fill="#ff0000" fill-opacity="0.25" stroke="none"/><path d="M113.24 439.51 L114.82 442.56 L116.67 447.13 L118.12 451.71 L119.57 456.28 L121.28 456.98 L123 457.69 L124.71 459.1 L126.42 460.5 L128.27 461.38 L130.12 462.26 L132.49 459.8 L134.21 458.04 L135.92 456.28 L137.63 453.99 L139.35 451.71 L140.93 450.53 L142.51 449.36 L144.1 448.19 L145.59 447.02 L147.09 445.84 L148.58 444.67 L150.16 443.97 L151.75 443.26 L153.33 442.56 L154.91 441.62 L156.49 440.68 L158.07 439.74 L159.83 438.69 L161.59 437.63 L163.35 436.58 L164.76 436.4 L166.16 436.23 L167.57 436.05 L168.98 435.87 L170.38 435.7 L171.79 435.52 L173.24 435.43 L174.69 435.35 L176.14 435.26 L177.59 435.17 L179.04 435.08 L180.49 435 L181.94 434.91 L183.39 434.82 L184.85 434.69 L186.3 434.56 L187.75 434.42 L189.2 434.29 L190.65 434.16 L192.1 434.03 L193.55 433.9 L195 433.76 L196.45 433.59 L197.9 433.41 L199.35 433.24 L200.8 433.06 L202.25 432.88 L203.7 432.71 L205.15 432.53 L206.61 432.36 L207.96 432.66 L209.32 432.96 L210.67 433.26 L212.03 433.56 L213.39 433.86 L214.74 434.17 L216.1 434.47 L217.68 434.89 L219.26 435.31 L220.85 435.73 L222.43 436.16 L224.01 436.58 L225.33 436.72 L226.65 436.86 L227.97 437 L229.29 437.14 L230.61 437.28 L231.92 437.42 L233.24 437.56 L234.56 437.7 L235.88 437.84 L237.2 437.99 L238.52 438.07 L239.84 438.16 L241.16 438.25 L242.47 438.34 L243.79 438.43 L243.79 451.09 L242.47 451 L241.16 450.92 L239.84 450.83 L238.52 450.74 L237.2 450.65 L235.88 450.51 L234.56 450.37 L233.24 450.23 L231.92 450.09 L230.61 449.95 L229.29 449.81 L227.97 449.67 L226.65 449.53 L225.33 449.39 L224.01 449.24 L222.43 448.82 L220.85 448.4 L219.26 447.98 L217.68 447.56 L216.1 447.13 L214.74 446.83 L213.39 446.53 L212.03 446.23 L210.67 445.93 L209.32 445.63 L207.96 445.32 L206.61 445.02 L205.15 445.2 L203.7 445.37 L202.25 445.55 L200.8 445.73 L199.35 445.9 L197.9 446.08 L196.45 446.25 L195 446.43 L193.55 446.56 L192.1 446.69 L190.65 446.83 L189.2 446.96 L187.75 447.09 L186.3 447.22 L184.85 447.35 L183.39 447.49 L181.94 447.57 L180.49 447.66 L179.04 447.75 L177.59 447.84 L176.14 447.92 L174.69 448.01 L173.24 448.1 L171.79 448.19 L170.38 448.36 L168.98 448.54 L167.57 448.72 L166.16 448.89 L164.76 449.07 L163.35 449.24 L161.59 450.3 L159.83 451.36 L158.07 452.41 L156.49 453.35 L154.91 454.29 L153.33 455.23 L151.75 455.93 L150.16 456.63 L148.58 457.34 L147.09 458.51 L145.59 459.68 L144.1 460.85 L142.51 462.03 L140.93 463.2 L139.35 464.37 L137.63 466.66 L135.92 468.95 L134.21 470.71 L132.49 472.47 L130.12 474.93 L128.27 474.05 L126.42 473.17 L124.71 471.76 L123 470.35 L121.28 469.65 L119.57 468.95 L118.12 464.37 L116.67 459.8 L114.82 448.19 L113.24 445.14 Z" fill="#ff0000" fill-opacity="0.22" stroke="none"/><path d="M89.5 447.13 H300.5" stroke="#000" stroke-width="1.1" stroke-dasharray="4.07 1.76" fill="none"/><path d="M89.5 368.67 L90.29 368.32 L92.4 370.43 L94.51 366.92 L97.68 361.64 L101.11 363.4 L105.59 363.75 L107.17 370.43 L109.55 382.75 L111.13 385.91 L113.77 386.27 L116.93 402.1 L120.36 415.82 L124.84 424.97 L128.27 431.65 L131.7 429.19 L136.71 427.78 L140.67 431.65 L144.1 437.99 L147.53 444.32 L152.27 451 L158.07 454.52 L165.2 456.98 L169.68 458.39 L174.96 455.58 L183.39 452.06 L195 450.3 L210.3 447.49 L221.38 447.13 L230.08 446.78 L240.1 447.49 L247.75 448.19 L258.3 447.13 L271.75 446.43" fill="none" stroke="#000000" stroke-width="2.18" stroke-linejoin="round" stroke-linecap="square"/><path d="M91.35 410.89 L91.61 410.19 L93.98 408.08 L98.2 403.86 L103.74 407.38 L109.81 413.36 L113.5 411.6 L115.08 414.41 L117.72 436.58 L120.36 440.45 L124.84 440.45 L125.37 441.15 L128.8 447.49 L133.55 448.19 L139.35 447.49 L142.78 445.73 L146.47 446.43 L151.22 444.67 L155.7 442.91 L161.5 440.1 L167.31 439.04 L171.79 438.69 L174.96 438.34 L183.39 437.28 L195 437.99 L206.61 438.69 L218.47 440.45 L230.08 443.97 L240.1 445.02 L253.03 445.37 L266.21 446.43 L281.51 447.13" fill="none" stroke="#ff0000" stroke-width="2.18" stroke-linejoin="round" stroke-linecap="square"/><path d="M89.5 367.62 L90.29 368.32 L92.67 372.9 L95.04 384.51 L96.89 395.77 L98.47 404.91 L100.05 411.95 L101.63 422.5 L103.22 438.34 L105.59 445.73 L109.02 447.84 L111.66 452.76 L113.77 454.52 L118.51 457.34 L123 455.58 L126.42 460.5 L130.12 463.32 L133.55 464.02 L136.97 459.1 L141.72 460.5 L146.47 458.04 L151.22 454.52 L155.7 451.71 L159.92 449.24 L165.72 454.87 L171.79 461.91 L176.27 457.34 L183.39 453.82 L195 452.76 L202.12 454.87 L208.98 453.82 L214.78 455.58 L221.9 452.76 L227.71 449.95 L234.56 448.19" fill="none" stroke="#000000" stroke-width="2.18" stroke-linejoin="round" stroke-linecap="butt" stroke-dasharray="8.07 3.49"/><path d="M92.67 425.67 L95.83 425.67 L99.26 427.78 L101.9 431.65 L106.64 435.87 L110.86 439.74 L112.45 440.8 L114.82 445.37 L116.67 453.47 L119.57 462.61 L123 464.02 L126.42 466.84 L130.12 468.6 L132.49 466.13 L135.92 462.61 L139.35 458.04 L144.1 454.52 L148.58 451 L153.33 448.89 L158.07 446.08 L163.35 442.91 L171.79 441.86 L183.39 441.15 L195 440.1 L206.61 438.69 L216.1 440.8 L224.01 442.91 L237.2 444.32" fill="none" stroke="#ff0000" stroke-width="2.18" stroke-linejoin="round" stroke-linecap="butt" stroke-dasharray="8.07 3.49"/></g><rect x="89.5" y="306.4" width="211" height="211.1" fill="none" stroke="#000" stroke-width="1.16"/><path d="M89.5 517.5 V522.2 M142.25 517.5 V522.2 M195 517.5 V522.2 M247.75 517.5 V522.2 M300.5 517.5 V522.2 M89.5 306.4 H84.8 M89.5 341.58 H84.8 M89.5 376.77 H84.8 M89.5 411.95 H84.8 M89.5 447.13 H84.8 M89.5 482.32 H84.8 M89.5 517.5 H84.8" stroke="#000" stroke-width="1.16" fill="none"/><text transform="translate(84.89 538.9)" x="0.34" font-size="15.37" fill="#000">0</text><text transform="translate(137.64 538.9)" x="0.14" font-size="15.37" fill="#000">2</text><text transform="translate(190.39 538.9)" x="0.33" font-size="15.37" fill="#000">4</text><text transform="translate(243.14 538.9)" x="0.34" font-size="15.37" fill="#000">6</text><text transform="translate(295.89 538.9)" x="0.34" font-size="15.37" fill="#000">8</text><text transform="translate(60.85 311.68)" x="0.33 9.56" font-size="15.37" fill="#000">40</text><text transform="translate(60.85 346.86)" x="0.36 9.56" font-size="15.37" fill="#000">30</text><text transform="translate(60.85 382.04)" x="0.14 9.56" font-size="15.37" fill="#000">20</text><text transform="translate(60.85 417.23)" x="0.26 9.56" font-size="15.37" fill="#000">10</text><text transform="translate(70.07 452.41)" x="0.34" font-size="15.37" fill="#000">0</text><text transform="translate(48.7 487.59)" font-size="15.37" fill="#000"><tspan x="0.62" dy="2.16" font-size="18.68">−</tspan><tspan x="12.41 21.71" dy="-2.16">10</tspan></text><text transform="translate(48.7 522.78)" font-size="15.37" fill="#000"><tspan x="0.62" dy="2.16" font-size="18.68">−</tspan><tspan x="12.29 21.71" dy="-2.16">20</tspan></text><rect x="141.5" y="312" width="153.6" height="31.9" rx="2.5" ry="2.5" fill="#fff" fill-opacity="0.8" stroke="#3a3a3a" stroke-width="1.16"/><path d="M144.2 319.1 H160.6" stroke="#000000" stroke-width="2.18" stroke-linecap="square" fill="none"/><text transform="translate(166.15 323.11)" x="-0.18 8.32 15 21.33 27.76 35.32 39.49 46.26 53.04 59.97 62.95 69.52 76.93" font-size="11.66" fill="#000">Uncharged PEI</text><path d="M144.2 335.2 H160.6" stroke="#ff0000" stroke-width="2.18" stroke-linecap="square" fill="none"/><text transform="translate(166.15 339.21)" x="-0.39 6.18 13.59" font-size="11.66" fill="#000">PEI</text><path d="M254.3 319.1 H270.7" stroke="#000000" stroke-width="2.18" stroke-linecap="square" fill="none"/><text transform="translate(276.5 323.11)" x="-0.13 7.4" font-size="11.66" fill="#000">AA</text><path d="M254.3 335.2 H270.7" stroke="#000000" stroke-width="2.18" stroke-dasharray="8.07 3.49" fill="none"/><text transform="translate(276.5 339.21)" x="-0.44 7.41" font-size="11.66" fill="#000">CG</text><g clip-path="url(#cC)"><path d="M89.5 705.92 L90.29 705.74 L91.74 704.86 L93.19 703.98 L94.69 703.57 L96.18 703.16 L97.68 702.75 L99 703.16 L100.31 703.57 L101.63 703.98 L103.61 702.49 L105.59 700.99 L106.91 700.11 L108.23 699.23 L109.55 698.35 L110.86 696.89 L112.18 695.42 L113.5 693.96 L115.22 693.52 L116.93 693.08 L118.78 691.67 L121.41 687.8 L123.13 687.18 L124.84 686.57 L126.56 686.13 L128.27 685.69 L129.59 685.25 L130.91 684.81 L133.55 678.48 L134.95 676.42 L136.36 674.37 L137.77 672.32 L139.26 670.74 L140.76 669.15 L142.25 667.57 L143.57 666.82 L144.89 666.07 L146.21 665.33 L147.53 664.58 L149.28 663.7 L151.04 662.82 L152.8 661.94 L154.12 659.74 L155.44 657.54 L156.76 654.46 L158.07 649.27 L159.39 646.2 L160.71 643.12 L163.35 639.6 L164.76 639.01 L166.16 638.43 L167.57 637.84 L169.15 637.84 L170.74 637.84 L172.32 637.84 L173.9 637.84 L175.35 637.93 L176.8 638.02 L178.25 638.1 L179.7 638.19 L181.15 638.28 L182.6 638.37 L184.08 638.54 L185.56 638.72 L187.03 638.89 L188.51 639.07 L189.99 639.25 L191.39 639.44 L192.79 639.63 L194.19 639.82 L195.59 640 L196.99 640.19 L198.39 640.38 L199.79 640.57 L201.19 640.76 L202.59 640.95 L203.99 641.14 L205.39 641.33 L206.79 641.52 L208.19 641.71 L209.51 641.75 L210.82 641.8 L212.14 641.84 L213.46 641.89 L214.78 641.93 L216.1 641.97 L217.42 642.02 L218.74 642.06 L220.06 642.11 L221.38 642.15 L222.69 642.19 L224.01 642.24 L225.33 642.28 L226.65 642.33 L227.97 642.37 L229.29 642.41 L230.61 642.46 L231.93 642.5 L233.24 642.55 L234.56 642.59 L235.88 642.61 L237.2 642.62 L238.52 642.64 L239.84 642.66 L241.16 642.68 L242.47 642.69 L243.79 642.71 L245.11 642.73 L246.43 642.75 L247.75 642.77 L249.07 642.78 L250.39 642.8 L251.71 642.82 L253.03 642.84 L254.34 642.85 L255.66 642.87 L256.98 642.89 L258.3 642.91 L259.62 642.92 L260.94 642.94 L262.28 642.95 L263.63 642.96 L264.98 642.97 L266.32 642.98 L267.67 642.99 L269.02 643 L270.36 643.01 L271.71 643.02 L273.06 643.02 L274.4 643.03 L275.75 643.04 L277.1 643.05 L278.44 643.06 L279.79 643.07 L281.14 643.08 L282.48 643.09 L283.83 643.1 L285.17 643.11 L286.52 643.12 L286.52 651.91 L285.17 651.9 L283.83 651.89 L282.48 651.88 L281.14 651.88 L279.79 651.87 L278.44 651.86 L277.1 651.85 L275.75 651.84 L274.4 651.83 L273.06 651.82 L271.71 651.81 L270.36 651.8 L269.02 651.79 L267.67 651.78 L266.32 651.77 L264.98 651.76 L263.63 651.76 L262.28 651.75 L260.94 651.74 L259.62 651.72 L258.3 651.7 L256.98 651.68 L255.66 651.67 L254.34 651.65 L253.03 651.63 L251.71 651.61 L250.39 651.6 L249.07 651.58 L247.75 651.56 L246.43 651.54 L245.11 651.53 L243.79 651.51 L242.47 651.49 L241.16 651.47 L239.84 651.46 L238.52 651.44 L237.2 651.42 L235.88 651.4 L234.56 651.38 L233.24 651.34 L231.93 651.3 L230.61 651.25 L229.29 651.21 L227.97 651.17 L226.65 651.12 L225.33 651.08 L224.01 651.03 L222.69 650.99 L221.38 650.95 L220.06 650.9 L218.74 650.86 L217.42 650.81 L216.1 650.77 L214.78 650.73 L213.46 650.68 L212.14 650.64 L210.82 650.59 L209.51 650.55 L208.19 650.51 L206.79 650.32 L205.39 650.13 L203.99 649.94 L202.59 649.75 L201.19 649.56 L199.79 649.37 L198.39 649.18 L196.99 648.99 L195.59 648.8 L194.19 648.61 L192.79 648.42 L191.39 648.23 L189.99 648.04 L188.51 647.87 L187.03 647.69 L185.56 647.51 L184.08 647.34 L182.6 647.16 L181.15 647.08 L179.7 646.99 L178.25 646.9 L176.8 646.81 L175.35 646.72 L173.9 646.64 L172.32 646.64 L170.74 646.64 L169.15 646.64 L167.57 646.64 L166.16 647.22 L164.76 647.81 L163.35 648.39 L160.71 651.91 L159.39 654.99 L158.07 658.07 L156.76 659.04 L155.44 662.12 L154.12 664.31 L152.8 666.51 L151.04 667.39 L149.28 668.27 L147.53 669.15 L146.21 669.9 L144.89 670.65 L143.57 671.4 L142.25 672.14 L140.76 673.73 L139.26 675.31 L137.77 676.89 L136.36 678.95 L134.95 681 L133.55 683.05 L130.91 689.38 L129.59 689.82 L128.27 690.26 L126.56 690.7 L124.84 691.14 L123.13 691.76 L121.41 692.37 L118.78 696.24 L116.93 697.65 L115.22 698.09 L113.5 698.53 L112.18 700 L110.86 701.46 L109.55 702.93 L108.23 703.81 L106.91 704.69 L105.59 705.57 L103.61 707.06 L101.63 708.56 L100.31 708.15 L99 707.74 L97.68 707.33 L96.18 707.74 L94.69 708.15 L93.19 708.56 L91.74 709.44 L90.29 710.32 L89.5 710.49 Z" fill="#44cc00" fill-opacity="0.25" stroke="none"/><path d="M89.5 682.7 L90.29 682.52 L91.74 682.08 L93.19 681.64 L95.04 681.38 L96.89 681.11 L98.29 681.58 L99.7 682.05 L101.11 682.52 L102.6 683.23 L104.09 683.93 L105.59 684.63 L107 685.57 L108.4 686.51 L109.81 687.45 L111.66 688.24 L113.5 689.03 L114.91 689.03 L116.31 689.03 L117.72 689.03 L119.57 688.59 L121.41 688.15 L123.13 687.8 L124.84 687.45 L126.34 686.8 L127.83 686.16 L129.33 685.51 L131.04 684.72 L132.75 683.93 L134.21 681.47 L135.66 679 L137.63 675.49 L139.61 671.97 L141.06 669.86 L142.51 667.75 L143.96 665.63 L145.42 663.52 L147 661.53 L148.58 659.54 L150.16 657.54 L151.48 654.46 L152.8 651.38 L154.51 649.54 L156.23 647.69 L157.55 645.58 L158.87 643.47 L160.36 642.47 L161.86 641.48 L163.35 640.48 L164.67 640.52 L165.99 640.57 L167.31 640.61 L168.62 640.65 L169.94 640.79 L171.26 640.94 L172.58 641.08 L173.9 641.22 L175.22 641.36 L176.54 641.5 L177.86 641.64 L179.18 641.78 L180.49 641.92 L181.81 642.06 L183.13 642.24 L184.45 642.41 L185.77 642.59 L187.09 642.77 L188.41 642.94 L189.72 643.12 L191.04 643.29 L192.36 643.47 L193.68 643.64 L195 643.82 L196.32 643.88 L197.64 643.94 L198.96 644.01 L200.28 644.07 L201.59 644.13 L202.91 644.19 L204.23 644.25 L205.55 644.31 L206.87 644.37 L208.19 644.44 L209.51 644.5 L210.82 644.56 L212.14 644.62 L213.46 644.68 L214.78 644.74 L216.1 644.81 L217.42 644.87 L218.74 644.93 L220.06 644.99 L221.38 645.05 L222.69 645.08 L224.01 645.1 L225.33 645.13 L226.65 645.16 L227.97 645.18 L229.29 645.21 L230.61 645.24 L231.93 645.26 L233.24 645.29 L234.56 645.32 L235.88 645.34 L237.2 645.37 L238.52 645.4 L239.84 645.42 L241.16 645.45 L242.47 645.47 L243.79 645.5 L245.11 645.53 L246.43 645.55 L247.75 645.58 L249.07 645.6 L250.39 645.61 L251.71 645.63 L253.03 645.65 L254.34 645.67 L255.66 645.69 L256.98 645.7 L258.3 645.72 L259.62 645.74 L260.94 645.76 L262.26 645.77 L263.57 645.79 L264.89 645.81 L266.21 645.83 L267.53 645.84 L268.85 645.86 L270.17 645.88 L271.49 645.9 L272.81 645.91 L274.12 645.93 L274.12 648.75 L272.81 648.73 L271.49 648.71 L270.17 648.69 L268.85 648.68 L267.53 648.66 L266.21 648.64 L264.89 648.62 L263.57 648.61 L262.26 648.59 L260.94 648.57 L259.62 648.55 L258.3 648.54 L256.98 648.52 L255.66 648.5 L254.34 648.48 L253.03 648.46 L251.71 648.45 L250.39 648.43 L249.07 648.41 L247.75 648.39 L246.43 648.37 L245.11 648.34 L243.79 648.32 L242.47 648.29 L241.16 648.26 L239.84 648.24 L238.52 648.21 L237.2 648.18 L235.88 648.16 L234.56 648.13 L233.24 648.1 L231.93 648.08 L230.61 648.05 L229.29 648.02 L227.97 648 L226.65 647.97 L225.33 647.95 L224.01 647.92 L222.69 647.89 L221.38 647.87 L220.06 647.81 L218.74 647.74 L217.42 647.68 L216.1 647.62 L214.78 647.56 L213.46 647.5 L212.14 647.44 L210.82 647.37 L209.51 647.31 L208.19 647.25 L206.87 647.19 L205.55 647.13 L204.23 647.07 L202.91 647 L201.59 646.94 L200.28 646.88 L198.96 646.82 L197.64 646.76 L196.32 646.7 L195 646.64 L193.68 646.46 L192.36 646.28 L191.04 646.11 L189.72 645.93 L188.41 645.76 L187.09 645.58 L185.77 645.4 L184.45 645.23 L183.13 645.05 L181.81 644.88 L180.49 644.74 L179.18 644.59 L177.86 644.45 L176.54 644.31 L175.22 644.17 L173.9 644.03 L172.58 643.89 L171.26 643.75 L169.94 643.61 L168.62 643.47 L167.31 643.42 L165.99 643.38 L164.67 643.34 L163.35 643.29 L161.86 644.29 L160.36 645.29 L158.87 646.28 L157.55 648.39 L156.23 650.51 L154.51 652.35 L152.8 654.2 L151.48 657.28 L150.16 660.36 L148.58 662.35 L147 664.34 L145.42 666.34 L143.96 668.45 L142.51 670.56 L141.06 672.67 L139.61 674.78 L137.63 678.3 L135.66 681.82 L134.21 684.28 L132.75 686.74 L131.04 687.54 L129.33 688.33 L127.83 688.97 L126.34 689.62 L124.84 690.26 L123.13 690.61 L121.41 690.97 L119.57 691.41 L117.72 691.85 L116.31 691.85 L114.91 691.85 L113.5 691.85 L111.66 691.05 L109.81 690.26 L108.4 689.32 L107 688.39 L105.59 687.45 L104.09 686.74 L102.6 686.04 L101.11 685.34 L99.7 684.87 L98.29 684.4 L96.89 683.93 L95.04 684.19 L93.19 684.46 L91.74 684.9 L90.29 685.34 L89.5 685.51 Z" fill="#44cc00" fill-opacity="0.2" stroke="none"/><path d="M89.5 647.87 H300.5" stroke="#000" stroke-width="1.1" stroke-dasharray="4.07 1.76" fill="none"/><path d="M89.5 708.21 L90.29 708.03 L93.19 706.27 L97.68 705.04 L101.63 706.27 L105.59 703.28 L109.55 700.64 L113.5 696.24 L116.93 695.36 L118.78 693.96 L121.41 690.09 L124.84 688.86 L128.27 687.98 L130.91 687.1 L133.55 680.76 L137.77 674.61 L142.25 669.86 L147.53 666.87 L152.8 664.23 L155.44 659.83 L158.07 653.67 L160.71 647.51 L163.35 644 L167.57 642.24 L173.9 642.24 L182.6 642.77 L189.99 643.64 L208.19 646.11 L234.56 646.99 L260.94 647.34 L286.52 647.51" fill="none" stroke="#44cc00" stroke-width="2.18" stroke-linejoin="round" stroke-linecap="square"/><path d="M92.14 770.66 L92.93 769.43 L95.83 764.68 L99.26 759.93 L103.22 755.88 L106.64 751.13 L109.28 745.85 L111.39 740.75 L112.97 734.95 L114.29 729.49 L115.61 723.33 L116.93 717.71 L118.25 712.08 L120.09 706.62 L122.47 701.52 L124.31 695.72 L126.42 689.56 L128.27 684.81 L130.38 680.06 L131.7 674.25 L133.02 668.62 L134.87 665.46 L137.77 662.82 L143.31 659.65 L149.11 656.49 L153.86 652.44 L158.07 648.75 L162.03 646.11 L166.78 645.76 L181.81 646.11 L208.19 646.46 L234.56 646.99 L271.49 647.34" fill="none" stroke="#44cc00" stroke-width="2.18" stroke-linejoin="round" stroke-linecap="butt" stroke-dasharray="2.18 3.6"/><path d="M89.5 684.11 L90.29 683.93 L93.19 683.05 L96.89 682.52 L101.11 683.93 L105.59 686.04 L109.81 688.86 L113.5 690.44 L117.72 690.44 L121.41 689.56 L124.84 688.86 L129.33 686.92 L132.75 685.34 L135.66 680.41 L139.61 673.37 L145.42 664.93 L150.16 658.95 L152.8 652.79 L156.23 649.1 L158.87 644.88 L163.35 641.89 L168.62 642.06 L181.81 643.47 L195 645.23 L221.38 646.46 L247.75 646.99 L274.12 647.34" fill="none" stroke="#44cc00" stroke-width="2.18" stroke-linejoin="round" stroke-linecap="butt" stroke-dasharray="8.07 3.49"/></g><rect x="89.5" y="577.5" width="211" height="211.1" fill="none" stroke="#000" stroke-width="1.16"/><path d="M89.5 788.6 V793.3 M142.25 788.6 V793.3 M195 788.6 V793.3 M247.75 788.6 V793.3 M300.5 788.6 V793.3 M89.5 577.5 H84.8 M89.5 612.68 H84.8 M89.5 647.87 H84.8 M89.5 683.05 H84.8 M89.5 718.23 H84.8 M89.5 753.42 H84.8 M89.5 788.6 H84.8" stroke="#000" stroke-width="1.16" fill="none"/><text transform="translate(84.89 810)" x="0.34" font-size="15.37" fill="#000">0</text><text transform="translate(137.64 810)" x="0.14" font-size="15.37" fill="#000">2</text><text transform="translate(190.39 810)" x="0.33" font-size="15.37" fill="#000">4</text><text transform="translate(243.14 810)" x="0.34" font-size="15.37" fill="#000">6</text><text transform="translate(295.89 810)" x="0.34" font-size="15.37" fill="#000">8</text><text transform="translate(60.85 582.78)" x="0.33 9.56" font-size="15.37" fill="#000">40</text><text transform="translate(60.85 617.96)" x="0.14 9.56" font-size="15.37" fill="#000">20</text><text transform="translate(70.07 653.14)" x="0.34" font-size="15.37" fill="#000">0</text><text transform="translate(48.7 688.33)" font-size="15.37" fill="#000"><tspan x="0.62" dy="2.16" font-size="18.68">−</tspan><tspan x="12.29 21.71" dy="-2.16">20</tspan></text><text transform="translate(48.7 723.51)" font-size="15.37" fill="#000"><tspan x="0.62" dy="2.16" font-size="18.68">−</tspan><tspan x="12.48 21.71" dy="-2.16">40</tspan></text><text transform="translate(48.7 758.69)" font-size="15.37" fill="#000"><tspan x="0.62" dy="2.16" font-size="18.68">−</tspan><tspan x="12.48 21.71" dy="-2.16">60</tspan></text><text transform="translate(48.7 793.88)" font-size="15.37" fill="#000"><tspan x="0.62" dy="2.16" font-size="18.68">−</tspan><tspan x="12.49 21.71" dy="-2.16">80</tspan></text><rect x="166.1" y="583.1" width="129.2" height="48.4" rx="2.5" ry="2.5" fill="#fff" fill-opacity="0.8" stroke="#3a3a3a" stroke-width="1.16"/><path d="M169.2 590.4 H185.7" stroke="#44cc00" stroke-width="2.18" stroke-linecap="square" fill="none"/><text transform="translate(191.3 594.41)" x="-0.13 7.4 15.48 18.46 25.03 32.44 35.72 39.21 47.2" font-size="11.66" fill="#000">AA PEI-CA</text><path d="M169.2 606.3 H185.7" stroke="#44cc00" stroke-width="2.18" stroke-dasharray="2.18 3.6" fill="none"/><text transform="translate(191.3 610.31)" x="-0.34 7.49 11.01 18.22 25.18 31.91 35.39 42.41 45.34 53.19 62.11 65.09 71.66 79.06 82.35 85.84 93.83" font-size="11.66" fill="#000">Stage 2 CG PEI-CA</text><path d="M169.2 622.1 H185.7" stroke="#44cc00" stroke-width="2.18" stroke-dasharray="8.07 3.49" fill="none"/><text transform="translate(191.3 626.11)" x="-0.34 7.49 11.01 18.22 25.18 31.91 35.55 42.41 45.34 53.19 62.11 65.09 71.66 79.06 82.35 85.84 93.83" font-size="11.66" fill="#000">Stage 3 CG PEI-CA</text><g clip-path="url(#cD)"><path d="M416.54 147.52 L418.05 148.22 L419.57 148.93 L421.09 149.63 L422.6 150.33 L424.1 150.63 L425.59 150.92 L427.09 151.22 L428.49 151.01 L429.9 150.8 L431.31 150.6 L432.71 150.39 L434.12 150.19 L435.53 149.98 L436.98 149.78 L438.43 149.59 L439.88 149.39 L441.33 149.19 L442.78 148.99 L444.23 148.79 L445.68 148.6 L447.13 148.4 L448.63 147.75 L450.12 148.52 L451.62 149.28 L453.07 150.29 L454.52 151.3 L455.97 152.32 L457.42 153.33 L459 152.39 L460.58 151.45 L462.17 150.51 L463.59 149.81 L465.01 149.1 L466.44 148.4 L467.86 147.69 L469.29 146.99 L470.78 145.4 L472.28 143.82 L473.77 142.23 L475.22 139.95 L476.67 138.18 L478.12 136.42 L479.57 134.66 L481.16 132.32 L482.74 129.97 L484.32 127.62 L485.85 126.07 L487.38 124.52 L488.91 122.97 L490.44 121.42 L491.97 119.87 L493.39 118.92 L494.82 117.97 L496.24 117.02 L497.67 116.07 L499.09 115.12 L500.54 115.29 L501.99 115.47 L503.44 115.65 L504.89 115.82 L506.32 115.36 L507.74 114.91 L509.17 114.45 L510.59 113.99 L512.01 113.53 L513.47 112.78 L514.92 112.04 L516.37 111.29 L517.82 110.54 L519.19 110.43 L520.56 110.33 L521.93 110.22 L523.3 110.12 L524.67 110.01 L526.1 109.66 L527.52 109.31 L528.95 108.96 L530.37 108.6 L531.8 108.25 L533.29 107.66 L534.79 107.08 L536.28 106.49 L537.64 106.41 L538.99 106.34 L540.35 106.26 L541.71 106.19 L543.06 106.11 L544.42 106.04 L545.77 105.96 L547.31 105.76 L548.85 105.55 L550.39 105.35 L551.93 105.14 L553.47 104.93 L555.01 104.73 L556.46 104.6 L557.91 104.46 L559.36 104.33 L560.81 104.2 L562.26 104.07 L563.71 103.94 L565.16 103.8 L566.61 103.67 L567.93 103.67 L569.25 103.67 L570.57 103.67 L571.89 103.67 L573.2 103.67 L574.52 103.67 L575.84 103.67 L577.16 103.67 L578.48 103.67 L579.93 103.61 L581.38 103.54 L582.83 103.47 L584.28 103.41 L585.73 103.34 L587.18 103.28 L588.63 103.21 L590.09 103.14 L591.48 103.2 L592.88 103.25 L594.28 103.3 L595.68 103.36 L597.07 103.41 L598.47 103.46 L599.87 103.51 L601.27 103.57 L602.67 103.62 L604.06 103.67 L605.43 103.51 L606.8 103.35 L608.16 103.19 L609.53 103.03 L610.9 102.87 L612.26 102.71 L613.63 102.55 L615 102.39 L616.36 102.23 L617.73 102.07 L619.1 101.91 L619.1 107.55 L617.73 107.71 L616.36 107.87 L615 108.03 L613.63 108.19 L612.26 108.35 L610.9 108.51 L609.53 108.67 L608.16 108.83 L606.8 108.99 L605.43 109.15 L604.06 109.31 L602.67 109.25 L601.27 109.2 L599.87 109.15 L598.47 109.1 L597.07 109.04 L595.68 108.99 L594.28 108.94 L592.88 108.88 L591.48 108.83 L590.09 108.78 L588.63 108.84 L587.18 108.91 L585.73 108.98 L584.28 109.04 L582.83 109.11 L581.38 109.18 L579.93 109.24 L578.48 109.31 L577.16 109.31 L575.84 109.31 L574.52 109.31 L573.2 109.31 L571.89 109.31 L570.57 109.31 L569.25 109.31 L567.93 109.31 L566.61 109.31 L565.16 109.44 L563.71 109.57 L562.26 109.7 L560.81 109.84 L559.36 109.97 L557.91 110.1 L556.46 110.23 L555.01 110.36 L553.47 110.57 L551.93 110.77 L550.39 110.98 L548.85 111.19 L547.31 111.39 L545.77 111.6 L544.42 111.67 L543.06 111.75 L541.71 111.82 L540.35 111.9 L538.99 111.97 L537.64 112.05 L536.28 112.12 L534.79 112.71 L533.29 113.3 L531.8 113.89 L530.37 114.24 L528.95 114.59 L527.52 114.94 L526.1 115.29 L524.67 115.65 L523.3 115.75 L521.93 115.86 L520.56 115.96 L519.19 116.07 L517.82 116.17 L516.37 116.92 L514.92 117.67 L513.47 118.42 L512.01 119.17 L510.59 119.63 L509.17 120.08 L507.74 120.54 L506.32 121 L504.89 121.46 L503.44 121.28 L501.99 121.1 L500.54 120.93 L499.09 120.75 L497.67 121.7 L496.24 122.65 L494.82 123.61 L493.39 124.56 L491.97 125.51 L490.44 127.06 L488.91 128.61 L487.38 130.16 L485.85 131.7 L484.32 133.25 L482.74 135.6 L481.16 137.95 L479.57 140.3 L478.12 142.06 L476.67 143.82 L475.22 145.58 L473.77 146.81 L472.28 148.4 L470.78 149.98 L469.29 151.57 L467.86 152.27 L466.44 152.98 L465.01 153.68 L463.59 154.38 L462.17 155.09 L460.58 156.03 L459 156.97 L457.42 157.91 L455.97 156.89 L454.52 155.88 L453.07 154.87 L451.62 153.86 L450.12 153.09 L448.63 152.33 L447.13 150.16 L445.68 150.36 L444.23 150.55 L442.78 150.75 L441.33 150.95 L439.88 151.15 L438.43 151.35 L436.98 151.55 L435.53 151.74 L434.12 151.95 L432.71 152.15 L431.31 152.36 L429.9 152.56 L428.49 152.77 L427.09 152.98 L425.59 152.68 L424.1 152.39 L422.6 152.1 L421.09 151.39 L419.57 150.69 L418.05 149.98 L416.54 149.28 Z" fill="#ff0000" fill-opacity="0.25" stroke="none"/><path d="M413.9 183.09 L414.43 182.91 L415.88 182.56 L417.33 182.21 L418.78 181.85 L420.23 181.5 L421.6 181.36 L422.97 181.22 L424.34 181.08 L425.72 180.94 L427.09 180.8 L428.51 181.15 L429.94 181.5 L431.36 181.85 L432.78 182.21 L434.21 182.56 L435.66 181.81 L437.11 181.06 L438.56 180.31 L440.01 179.56 L441.44 179.11 L442.86 178.65 L444.28 178.19 L445.71 177.73 L447.13 177.28 L448.45 176.52 L449.77 175.77 L451.09 175.01 L452.41 174.26 L453.73 173.5 L455.04 172.75 L456.36 171.99 L457.73 171.41 L459.09 170.82 L460.45 170.23 L461.81 169.65 L463.18 169.06 L464.54 168.47 L465.96 168.01 L467.39 167.56 L468.81 167.1 L470.24 166.64 L471.66 166.18 L473.03 165.27 L474.4 164.35 L475.78 163.44 L477.15 162.52 L478.52 161.6 L479.84 159.91 L481.16 158.22 L482.47 156.53 L483.79 154.84 L485.11 153.15 L486.61 151.22 L488.1 149.28 L489.6 147.34 L491.18 144.99 L492.76 142.65 L494.34 140.3 L495.93 138.54 L497.51 136.78 L499.09 135.02 L500.54 134.31 L501.99 133.61 L503.44 132.9 L504.89 132.2 L506.32 131.25 L507.74 130.3 L509.17 129.35 L510.59 128.39 L512.01 127.44 L513.39 126.74 L514.76 126.04 L516.13 125.33 L517.5 124.63 L518.87 123.92 L520.3 123.57 L521.72 123.22 L523.15 122.87 L524.57 122.51 L525.99 122.16 L527.44 121.59 L528.89 121.02 L530.35 120.44 L531.8 119.87 L533.17 119.17 L534.54 118.46 L535.91 117.76 L537.28 117.05 L538.65 116.35 L540.08 116 L541.5 115.65 L542.93 115.29 L544.35 114.94 L545.77 114.59 L547.15 114.13 L548.52 113.67 L549.89 113.22 L551.26 112.76 L552.63 112.3 L554.06 111.84 L555.48 111.38 L556.91 110.93 L558.33 110.47 L559.75 110.01 L561.13 109.76 L562.5 109.52 L563.87 109.27 L565.24 109.03 L566.61 108.78 L567.93 108.52 L569.25 108.27 L570.57 108.02 L571.89 107.76 L573.2 107.51 L574.52 107.25 L575.84 107 L577.16 106.74 L578.48 106.49 L579.93 106.27 L581.38 106.05 L582.83 105.83 L584.28 105.61 L585.73 105.39 L587.18 105.17 L588.63 104.95 L590.09 104.73 L591.45 104.64 L592.81 104.55 L594.17 104.46 L595.54 104.38 L596.9 104.29 L598.26 104.2 L599.98 104.29 L601.69 104.38 L601.69 106.49 L599.98 106.4 L598.26 106.31 L596.9 106.4 L595.54 106.49 L594.17 106.58 L592.81 106.67 L591.45 106.75 L590.09 106.84 L588.63 107.06 L587.18 107.28 L585.73 107.5 L584.28 107.72 L582.83 107.94 L581.38 108.16 L579.93 108.38 L578.48 108.6 L577.16 108.86 L575.84 109.11 L574.52 109.37 L573.2 109.62 L571.89 109.87 L570.57 110.13 L569.25 110.38 L567.93 110.64 L566.61 110.89 L565.24 111.14 L563.87 111.38 L562.5 111.63 L561.13 111.88 L559.75 112.12 L558.33 112.58 L556.91 113.04 L555.48 113.5 L554.06 113.96 L552.63 114.41 L551.26 114.87 L549.89 115.33 L548.52 115.79 L547.15 116.24 L545.77 116.7 L544.35 117.05 L542.93 117.41 L541.5 117.76 L540.08 118.11 L538.65 118.46 L537.28 119.17 L535.91 119.87 L534.54 120.58 L533.17 121.28 L531.8 121.99 L530.35 122.56 L528.89 123.13 L527.44 123.7 L525.99 124.27 L524.57 124.63 L523.15 124.98 L521.72 125.33 L520.3 125.68 L518.87 126.04 L517.5 126.74 L516.13 127.44 L514.76 128.15 L513.39 128.85 L512.01 129.56 L510.59 130.51 L509.17 131.46 L507.74 132.41 L506.32 133.36 L504.89 134.31 L503.44 135.02 L501.99 135.72 L500.54 136.42 L499.09 137.13 L497.51 138.89 L495.93 140.65 L494.34 142.41 L492.76 144.76 L491.18 147.11 L489.6 149.45 L488.1 151.39 L486.61 153.33 L485.11 155.26 L483.79 156.96 L482.47 158.65 L481.16 160.34 L479.84 162.03 L478.52 163.72 L477.15 164.63 L475.78 165.55 L474.4 166.46 L473.03 167.38 L471.66 168.3 L470.24 168.75 L468.81 169.21 L467.39 169.67 L465.96 170.13 L464.54 170.58 L463.18 171.17 L461.81 171.76 L460.45 172.35 L459.09 172.93 L457.73 173.52 L456.36 174.11 L455.04 174.86 L453.73 175.62 L452.41 176.37 L451.09 177.12 L449.77 177.88 L448.45 178.63 L447.13 179.39 L445.71 179.85 L444.28 180.3 L442.86 180.76 L441.44 181.22 L440.01 181.68 L438.56 182.43 L437.11 183.17 L435.66 183.92 L434.21 184.67 L432.78 184.32 L431.36 183.97 L429.94 183.61 L428.51 183.26 L427.09 182.91 L425.72 183.05 L424.34 183.19 L422.97 183.33 L421.6 183.47 L420.23 183.61 L418.78 183.97 L417.33 184.32 L415.88 184.67 L414.43 185.02 L413.9 185.2 Z" fill="#ff0000" fill-opacity="0.2" stroke="none"/><path d="M413.9 184.14 L414.43 183.97 L420.23 182.56 L427.09 181.85 L434.21 183.61 L440.01 180.62 L447.13 178.33 L456.36 173.05 L464.54 169.53 L471.66 167.24 L478.52 162.66 L485.11 154.21 L489.6 148.4 L494.34 141.35 L499.09 136.07 L504.89 133.25 L512.01 128.5 L518.87 124.98 L525.99 123.22 L531.8 120.93 L538.65 117.41 L545.77 115.65 L552.63 113.36 L559.75 111.07 L566.61 109.84 L578.48 107.55 L590.09 105.79 L598.26 105.26 L601.69 105.43" fill="none" stroke="#ff0000" stroke-width="2.18" stroke-linejoin="round" stroke-linecap="square"/><path d="M416.54 148.4 L422.6 151.22 L427.09 152.1 L435.53 150.86 L447.13 149.28 L451.62 151.57 L457.42 155.62 L462.17 152.8 L469.29 149.28 L473.77 144.52 L479.57 137.48 L484.32 130.44 L491.97 122.69 L499.09 117.94 L504.89 118.64 L512.01 116.35 L517.82 113.36 L524.67 112.83 L531.8 111.07 L536.28 109.31 L545.77 108.78 L555.01 107.55 L566.61 106.49 L578.48 106.49 L590.09 105.96 L604.06 106.49 L619.1 104.73" fill="none" stroke="#ff0000" stroke-width="2.18" stroke-linejoin="round" stroke-linecap="butt" stroke-dasharray="8.07 3.49"/></g><rect x="413.9" y="35" width="211" height="211.3" fill="none" stroke="#000" stroke-width="1.16"/><path d="M413.9 246.3 V251 M466.65 246.3 V251 M519.4 246.3 V251 M572.15 246.3 V251 M624.9 246.3 V251 M413.9 35 H409.2 M413.9 70.22 H409.2 M413.9 105.43 H409.2 M413.9 140.65 H409.2 M413.9 175.87 H409.2 M413.9 211.08 H409.2 M413.9 246.3 H409.2" stroke="#000" stroke-width="1.16" fill="none"/><text transform="translate(409.29 267.7)" x="0.34" font-size="15.37" fill="#000">0</text><text transform="translate(462.04 267.7)" x="0.14" font-size="15.37" fill="#000">2</text><text transform="translate(514.79 267.7)" x="0.33" font-size="15.37" fill="#000">4</text><text transform="translate(567.54 267.7)" x="0.34" font-size="15.37" fill="#000">6</text><text transform="translate(620.29 267.7)" x="0.34" font-size="15.37" fill="#000">8</text><text transform="translate(385.25 40.28)" x="0.33 9.56" font-size="15.37" fill="#000">40</text><text transform="translate(385.25 75.49)" x="0.14 9.56" font-size="15.37" fill="#000">20</text><text transform="translate(394.47 110.71)" x="0.34" font-size="15.37" fill="#000">0</text><text transform="translate(373.1 145.93)" font-size="15.37" fill="#000"><tspan x="0.62" dy="2.16" font-size="18.68">−</tspan><tspan x="12.29 21.71" dy="-2.16">20</tspan></text><text transform="translate(373.1 181.14)" font-size="15.37" fill="#000"><tspan x="0.62" dy="2.16" font-size="18.68">−</tspan><tspan x="12.48 21.71" dy="-2.16">40</tspan></text><text transform="translate(373.1 216.36)" font-size="15.37" fill="#000"><tspan x="0.62" dy="2.16" font-size="18.68">−</tspan><tspan x="12.48 21.71" dy="-2.16">60</tspan></text><text transform="translate(373.1 251.58)" font-size="15.37" fill="#000"><tspan x="0.62" dy="2.16" font-size="18.68">−</tspan><tspan x="12.49 21.71" dy="-2.16">80</tspan></text><rect x="504.7" y="40.7" width="114.9" height="31.9" rx="2.5" ry="2.5" fill="#fff" fill-opacity="0.8" stroke="#3a3a3a" stroke-width="1.16"/><path d="M507.9 47.9 H524.3" stroke="#ff0000" stroke-width="2.18" stroke-linecap="square" fill="none"/><text transform="translate(529.85 51.91)" x="-0.13 7.4 15.48 18.46 25.03 32.44" font-size="11.66" fill="#000">AA PEI</text><path d="M507.9 63.8 H524.3" stroke="#ff0000" stroke-width="2.18" stroke-dasharray="8.07 3.49" fill="none"/><text transform="translate(529.85 67.81)" font-size="11.66" fill="#000"><tspan x="-0.44 7.41 16.33 19.31 25.88 33.29 36.66">CG PEI </tspan><tspan x="40.16" dy="-0.72" font-size="10.52">(</tspan><tspan x="44.5 51.46 58.53 61.65 68.9 75.89 79.21" dy="0.72">default</tspan><tspan x="83.68" dy="-0.72" font-size="10.52">)</tspan></text><g clip-path="url(#cE)"><path d="M413.9 479.5 L414.69 479.33 L416.1 478.62 L417.5 477.92 L418.91 477.22 L420.28 477.04 L421.65 476.86 L423.03 476.69 L424.4 476.51 L425.77 476.34 L427.48 474.75 L429.2 473.17 L431.04 470.97 L432.89 468.77 L434.34 468.95 L435.79 469.12 L437.9 464.9 L439.75 460.33 L441.59 456.28 L443.44 452.23 L445.29 447.57 L447.13 442.91 L448.85 438.87 L450.56 434.82 L452.28 430.07 L453.99 425.32 L455.57 423.8 L457.15 422.27 L458.74 420.75 L460.19 419.87 L461.64 418.99 L463.09 418.11 L464.54 417.23 L466.12 416.05 L467.7 414.88 L469.29 413.71 L471 410.19 L472.72 406.67 L474.3 406.09 L475.88 405.5 L477.46 404.91 L479.05 403.98 L480.63 403.04 L482.21 402.1 L483.66 401.04 L485.11 399.99 L487.09 398.05 L489.07 396.12 L490.52 394.62 L491.97 393.13 L493.33 392.63 L494.7 392.13 L496.06 391.63 L497.42 391.13 L498.78 390.63 L500.15 390.14 L501.51 389.46 L502.87 388.79 L504.23 388.11 L505.6 387.44 L506.96 386.76 L508.32 386.09 L509.75 385.49 L511.17 384.89 L512.6 384.3 L514.02 383.7 L515.44 383.1 L516.81 382.81 L518.17 382.51 L519.53 382.22 L520.89 381.93 L522.26 381.63 L523.62 381.34 L524.98 381.14 L526.35 380.93 L527.71 380.72 L529.07 380.52 L530.43 380.31 L531.8 380.11 L533.25 379.98 L534.7 379.85 L536.15 379.71 L537.6 379.58 L539.05 379.45 L540.5 379.32 L541.95 379.19 L543.4 379.05 L544.85 378.83 L546.3 378.61 L547.75 378.39 L549.2 378.17 L550.65 377.95 L552.11 377.73 L553.56 377.51 L555.01 377.29 L556.46 377.16 L557.91 377.03 L559.36 376.9 L560.81 376.77 L562.26 376.63 L563.71 376.5 L565.16 376.37 L566.61 376.24 L567.93 376.18 L569.25 376.12 L570.57 376.06 L571.89 376 L573.2 375.95 L574.52 375.89 L575.84 375.83 L577.16 375.77 L578.48 375.71 L579.93 375.62 L581.38 375.54 L582.83 375.45 L584.28 375.36 L585.73 375.27 L587.18 375.18 L588.63 375.1 L590.09 375.01 L591.4 374.76 L592.72 374.5 L594.04 374.25 L595.36 374 L596.68 373.75 L598 373.5 L599.32 373.25 L600.74 373.56 L602.16 373.88 L603.59 374.2 L605.01 374.51 L606.44 374.83 L607.84 374.66 L609.25 374.48 L610.66 374.3 L612.06 374.13 L613.47 373.95 L614.88 373.78 L616.28 373.6 L617.69 373.42 L619.1 373.25 L620.55 373.07 L622 372.9 L623.45 372.72 L624.9 372.54 L624.9 377.82 L623.45 378 L622 378.17 L620.55 378.35 L619.1 378.53 L617.69 378.7 L616.28 378.88 L614.88 379.05 L613.47 379.23 L612.06 379.41 L610.66 379.58 L609.25 379.76 L607.84 379.93 L606.44 380.11 L605.01 379.79 L603.59 379.48 L602.16 379.16 L600.74 378.84 L599.32 378.53 L598 378.78 L596.68 379.03 L595.36 379.28 L594.04 379.53 L592.72 379.78 L591.4 380.03 L590.09 380.28 L588.63 380.37 L587.18 380.46 L585.73 380.55 L584.28 380.64 L582.83 380.72 L581.38 380.81 L579.93 380.9 L578.48 380.99 L577.16 381.05 L575.84 381.11 L574.52 381.16 L573.2 381.22 L571.89 381.28 L570.57 381.34 L569.25 381.4 L567.93 381.46 L566.61 381.52 L565.16 381.65 L563.71 381.78 L562.26 381.91 L560.81 382.04 L559.36 382.18 L557.91 382.31 L556.46 382.44 L555.01 382.57 L553.56 382.79 L552.11 383.01 L550.65 383.23 L549.2 383.45 L547.75 383.67 L546.3 383.89 L544.85 384.11 L543.4 384.33 L541.95 384.46 L540.5 384.59 L539.05 384.73 L537.6 384.86 L536.15 384.99 L534.7 385.12 L533.25 385.25 L531.8 385.39 L530.43 385.59 L529.07 385.8 L527.71 386 L526.35 386.21 L524.98 386.41 L523.62 386.62 L522.26 386.91 L520.89 387.2 L519.53 387.5 L518.17 387.79 L516.81 388.08 L515.44 388.38 L514.02 388.98 L512.6 389.57 L511.17 390.17 L509.75 390.77 L508.32 391.37 L506.96 392.04 L505.6 392.72 L504.23 393.39 L502.87 394.07 L501.51 394.74 L500.15 395.41 L498.78 395.91 L497.42 396.41 L496.06 396.91 L494.7 397.41 L493.33 397.91 L491.97 398.4 L490.52 399.9 L489.07 401.39 L487.09 403.33 L485.11 405.27 L483.66 406.32 L482.21 407.38 L480.63 408.31 L479.05 409.25 L477.46 410.19 L475.88 410.78 L474.3 411.36 L472.72 411.95 L471 415.47 L469.29 418.99 L467.7 420.16 L466.12 421.33 L464.54 422.5 L463.09 423.38 L461.64 424.26 L460.19 425.14 L458.74 426.02 L457.15 427.55 L455.57 429.07 L453.99 430.6 L452.28 435.35 L450.56 440.1 L448.85 444.14 L447.13 448.19 L445.29 452.85 L443.44 457.51 L441.59 461.56 L439.75 465.6 L437.9 470.18 L435.79 474.4 L434.34 474.22 L432.89 474.05 L431.04 476.25 L429.2 478.45 L427.48 480.03 L425.77 481.61 L424.4 481.79 L423.03 481.96 L421.65 482.14 L420.28 482.32 L418.91 482.49 L417.5 483.2 L416.1 483.9 L414.69 484.6 L413.9 484.78 Z" fill="#44cc00" fill-opacity="0.25" stroke="none"/><path d="M413.9 459.98 L414.43 459.8 L415.8 459.62 L417.17 459.45 L418.54 459.27 L419.91 459.1 L421.28 458.92 L422.74 459.05 L424.19 459.18 L425.64 459.32 L427.09 459.45 L428.54 459.01 L429.99 458.57 L431.44 458.13 L432.89 457.69 L434.31 457.02 L435.74 456.35 L437.16 455.68 L438.59 455.01 L440.01 454.35 L441.59 453.82 L443.18 453.29 L444.76 452.76 L446.21 452.1 L447.66 451.44 L449.11 450.78 L450.56 450.12 L451.93 449.98 L453.3 449.84 L454.68 449.7 L456.05 449.56 L457.42 449.42 L458.94 448.58 L460.45 447.75 L461.97 446.91 L463.48 446.08 L464.86 445.73 L466.23 445.37 L467.6 445.02 L468.97 444.67 L470.34 444.32 L471.79 444.1 L473.24 443.88 L474.69 443.66 L476.14 443.44 L477.66 442.47 L479.18 441.5 L480.69 439.31 L482.21 438.34 L483.62 437.4 L485.02 436.46 L486.43 435.52 L488.01 433.59 L489.6 431.65 L491.18 429.37 L492.76 427.08 L494.34 424.79 L495.79 422.86 L497.25 420.92 L498.7 418.99 L500.15 417.05 L501.73 416.7 L503.31 416.35 L504.89 416 L506.61 412.21 L508.32 408.43 L510.17 405.79 L512.01 403.15 L513.47 402.89 L514.92 402.63 L516.37 402.36 L517.82 402.1 L519.27 401.18 L520.72 400.25 L522.17 399.33 L523.62 398.4 L524.99 397.7 L526.36 397 L527.73 396.29 L529.11 395.59 L530.48 394.89 L531.9 394.57 L533.33 394.25 L534.75 393.94 L536.17 393.62 L537.6 393.3 L538.96 392.8 L540.32 392.31 L541.69 391.81 L543.05 391.31 L544.41 390.81 L545.77 390.31 L547.31 389.96 L548.85 389.61 L550.39 389.26 L551.93 388.9 L553.47 388.55 L555.01 388.2 L556.46 387.87 L557.91 387.54 L559.36 387.21 L560.81 386.88 L562.26 386.55 L563.71 386.22 L565.16 385.89 L566.61 385.56 L567.93 385.25 L569.25 384.94 L570.57 384.62 L571.89 384.31 L573.2 384 L574.52 383.69 L575.84 383.37 L577.16 383.06 L578.48 382.75 L579.93 382.37 L581.38 382 L582.83 381.63 L584.28 381.25 L585.73 380.88 L587.18 380.5 L588.63 380.13 L590.09 379.76 L591.54 379.47 L592.99 379.19 L594.44 378.9 L595.89 378.61 L597.34 378.33 L598.79 378.04 L600.24 377.76 L601.69 377.47 L603.14 377.32 L604.59 377.16 L606.04 377.01 L607.49 376.85 L608.94 376.7 L610.39 376.55 L611.84 376.39 L613.29 376.24 L614.75 376.17 L616.2 376.11 L617.65 376.04 L619.1 375.98 L620.55 375.91 L622 375.84 L623.45 375.78 L624.9 375.71 L624.9 380.64 L623.45 380.7 L622 380.77 L620.55 380.83 L619.1 380.9 L617.65 380.97 L616.2 381.03 L614.75 381.1 L613.29 381.16 L611.84 381.32 L610.39 381.47 L608.94 381.63 L607.49 381.78 L606.04 381.93 L604.59 382.09 L603.14 382.24 L601.69 382.4 L600.24 382.68 L598.79 382.97 L597.34 383.25 L595.89 383.54 L594.44 383.83 L592.99 384.11 L591.54 384.4 L590.09 384.68 L588.63 385.06 L587.18 385.43 L585.73 385.8 L584.28 386.18 L582.83 386.55 L581.38 386.93 L579.93 387.3 L578.48 387.67 L577.16 387.99 L575.84 388.3 L574.52 388.61 L573.2 388.92 L571.89 389.24 L570.57 389.55 L569.25 389.86 L567.93 390.18 L566.61 390.49 L565.16 390.82 L563.71 391.15 L562.26 391.48 L560.81 391.81 L559.36 392.14 L557.91 392.47 L556.46 392.8 L555.01 393.13 L553.47 393.48 L551.93 393.83 L550.39 394.18 L548.85 394.53 L547.31 394.89 L545.77 395.24 L544.41 395.74 L543.05 396.23 L541.69 396.73 L540.32 397.23 L538.96 397.73 L537.6 398.23 L536.17 398.55 L534.75 398.86 L533.33 399.18 L531.9 399.5 L530.48 399.81 L529.11 400.52 L527.73 401.22 L526.36 401.92 L524.99 402.63 L523.62 403.33 L522.17 404.25 L520.72 405.18 L519.27 406.1 L517.82 407.02 L516.37 407.29 L514.92 407.55 L513.47 407.82 L512.01 408.08 L510.17 410.72 L508.32 413.36 L506.61 417.14 L504.89 420.92 L503.31 421.27 L501.73 421.63 L500.15 421.98 L498.7 423.91 L497.25 425.85 L495.79 427.78 L494.34 429.72 L492.76 432 L491.18 434.29 L489.6 436.58 L488.01 438.51 L486.43 440.45 L485.02 441.39 L483.62 442.32 L482.21 443.26 L480.69 444.23 L479.18 443.97 L477.66 444.93 L476.14 445.9 L474.69 446.12 L473.24 446.34 L471.79 446.56 L470.34 446.78 L468.97 447.13 L467.6 447.49 L466.23 447.84 L464.86 448.19 L463.48 448.54 L461.97 449.38 L460.45 450.21 L458.94 451.05 L457.42 451.88 L456.05 452.02 L454.68 452.16 L453.3 452.31 L451.93 452.45 L450.56 452.59 L449.11 453.25 L447.66 453.91 L446.21 454.57 L444.76 455.23 L443.18 455.75 L441.59 456.28 L440.01 456.81 L438.59 457.48 L437.16 458.15 L435.74 458.81 L434.31 459.48 L432.89 460.15 L431.44 460.59 L429.99 461.03 L428.54 461.47 L427.09 461.91 L425.64 461.78 L424.19 461.65 L422.74 461.51 L421.28 461.38 L419.91 461.56 L418.54 461.73 L417.17 461.91 L415.8 462.09 L414.43 462.26 L413.9 462.44 Z" fill="#44cc00" fill-opacity="0.22" stroke="none"/><path d="M413.9 461.21 L414.43 461.03 L421.28 460.15 L427.09 460.68 L432.89 458.92 L440.01 455.58 L444.76 453.99 L450.56 451.36 L457.42 450.65 L463.48 447.31 L470.34 445.55 L476.14 444.67 L482.21 440.8 L486.43 437.99 L489.6 434.12 L494.34 427.25 L500.15 419.51 L504.89 418.46 L508.32 410.89 L512.01 405.62 L517.82 404.56 L523.62 400.87 L530.48 397.35 L537.6 395.77 L545.77 392.78 L555.01 390.66 L566.61 388.03 L578.48 385.21 L590.09 382.22 L601.69 379.93 L613.29 378.7 L624.9 378.17" fill="none" stroke="#44cc00" stroke-width="2.18" stroke-linejoin="round" stroke-linecap="square"/><path d="M413.9 482.14 L414.69 481.96 L418.91 479.85 L425.77 478.97 L429.2 475.81 L432.89 471.41 L435.79 471.76 L437.9 467.54 L439.75 462.97 L443.44 454.87 L447.13 445.55 L450.56 437.46 L453.99 427.96 L458.74 423.38 L464.54 419.87 L469.29 416.35 L472.72 409.31 L477.46 407.55 L482.21 404.74 L485.11 402.63 L489.07 398.76 L491.97 395.77 L500.15 392.78 L508.32 388.73 L515.44 385.74 L523.62 383.98 L531.8 382.75 L543.4 381.69 L555.01 379.93 L566.61 378.88 L578.48 378.35 L590.09 377.65 L599.32 375.89 L606.44 377.47 L619.1 375.89 L624.9 375.18" fill="none" stroke="#44cc00" stroke-width="2.18" stroke-linejoin="round" stroke-linecap="butt" stroke-dasharray="8.07 3.49"/></g><rect x="413.9" y="306.4" width="211" height="211.1" fill="none" stroke="#000" stroke-width="1.16"/><path d="M413.9 517.5 V522.2 M466.65 517.5 V522.2 M519.4 517.5 V522.2 M572.15 517.5 V522.2 M624.9 517.5 V522.2 M413.9 306.4 H409.2 M413.9 341.58 H409.2 M413.9 376.77 H409.2 M413.9 411.95 H409.2 M413.9 447.13 H409.2 M413.9 482.32 H409.2 M413.9 517.5 H409.2" stroke="#000" stroke-width="1.16" fill="none"/><text transform="translate(409.29 538.9)" x="0.34" font-size="15.37" fill="#000">0</text><text transform="translate(462.04 538.9)" x="0.14" font-size="15.37" fill="#000">2</text><text transform="translate(514.79 538.9)" x="0.33" font-size="15.37" fill="#000">4</text><text transform="translate(567.54 538.9)" x="0.34" font-size="15.37" fill="#000">6</text><text transform="translate(620.29 538.9)" x="0.34" font-size="15.37" fill="#000">8</text><text transform="translate(385.25 311.68)" x="0.33 9.56" font-size="15.37" fill="#000">40</text><text transform="translate(385.25 346.86)" x="0.14 9.56" font-size="15.37" fill="#000">20</text><text transform="translate(394.47 382.04)" x="0.34" font-size="15.37" fill="#000">0</text><text transform="translate(373.1 417.23)" font-size="15.37" fill="#000"><tspan x="0.62" dy="2.16" font-size="18.68">−</tspan><tspan x="12.29 21.71" dy="-2.16">20</tspan></text><text transform="translate(373.1 452.41)" font-size="15.37" fill="#000"><tspan x="0.62" dy="2.16" font-size="18.68">−</tspan><tspan x="12.48 21.71" dy="-2.16">40</tspan></text><text transform="translate(373.1 487.59)" font-size="15.37" fill="#000"><tspan x="0.62" dy="2.16" font-size="18.68">−</tspan><tspan x="12.48 21.71" dy="-2.16">60</tspan></text><text transform="translate(373.1 522.78)" font-size="15.37" fill="#000"><tspan x="0.62" dy="2.16" font-size="18.68">−</tspan><tspan x="12.49 21.71" dy="-2.16">80</tspan></text><rect x="485.9" y="312.2" width="133.3" height="32.2" rx="2.5" ry="2.5" fill="#fff" fill-opacity="0.8" stroke="#3a3a3a" stroke-width="1.16"/><path d="M488.7 319 H505" stroke="#44cc00" stroke-width="2.18" stroke-linecap="square" fill="none"/><text transform="translate(510.5 323.01)" x="-0.13 7.4 15.48 18.46 25.03 32.44 35.72 39.21 47.2" font-size="11.66" fill="#000">AA PEI-CA</text><path d="M488.7 334.9 H505" stroke="#44cc00" stroke-width="2.18" stroke-dasharray="8.07 3.49" fill="none"/><text transform="translate(510.5 338.91)" font-size="11.66" fill="#000"><tspan x="-0.44 7.41 16.33 19.31 25.88 33.29 36.57 40.06 48.05 55.83">CG PEI-CA </tspan><tspan x="59.33" dy="-0.72" font-size="10.52">(</tspan><tspan x="63.67 70.64 77.7 80.83 88.07 95.06 98.39" dy="0.72">default</tspan><tspan x="102.85" dy="-0.72" font-size="10.52">)</tspan></text><text transform="translate(165.5 289.5)" font-size="18.44" fill="#000"><tspan x="0.32 12.12">Z </tspan><tspan x="17.66" dy="-1.15" font-size="16.63">(</tspan><tspan x="24.67 36.11" dy="1.15">nm</tspan><tspan x="53.25" dy="-1.15" font-size="16.63">)</tspan></text><g transform="rotate(-90 38.8 140.65)"><text transform="translate(-15.93 140.65)" font-size="18.44" fill="#000"><tspan x="-0.62 10.32 24.83 35.72">PMF </tspan><tspan x="41.25" dy="-1.15" font-size="16.63">(</tspan><tspan x="47.77 55.51" dy="1.15">KJ</tspan><tspan x="64.6" dy="1.42" font-size="19.46">/</tspan><tspan x="71.08 87.38 98.2" dy="-1.42">mol</tspan><tspan x="103.7" dy="-1.15" font-size="16.63">)</tspan></text></g><text transform="translate(28.1 42.85)" font-size="18.44" fill="#000"><tspan x="-0.45">a</tspan><tspan x="11.7" dy="-1.15" font-size="16.63">)</tspan></text><text transform="translate(165.5 560.7)" font-size="18.44" fill="#000"><tspan x="0.32 12.12">Z </tspan><tspan x="17.66" dy="-1.15" font-size="16.63">(</tspan><tspan x="24.67 36.11" dy="1.15">nm</tspan><tspan x="53.25" dy="-1.15" font-size="16.63">)</tspan></text><g transform="rotate(-90 38.8 411.95)"><text transform="translate(-15.93 411.95)" font-size="18.44" fill="#000"><tspan x="-0.62 10.32 24.83 35.72">PMF </tspan><tspan x="41.25" dy="-1.15" font-size="16.63">(</tspan><tspan x="47.77 55.51" dy="1.15">KJ</tspan><tspan x="64.6" dy="1.42" font-size="19.46">/</tspan><tspan x="71.08 87.38 98.2" dy="-1.42">mol</tspan><tspan x="103.7" dy="-1.15" font-size="16.63">)</tspan></text></g><text transform="translate(28.1 314.25)" font-size="18.44" fill="#000"><tspan x="0.5">b</tspan><tspan x="12.08" dy="-1.15" font-size="16.63">)</tspan></text><text transform="translate(165.5 831.8)" font-size="18.44" fill="#000"><tspan x="0.32 12.12">Z </tspan><tspan x="17.66" dy="-1.15" font-size="16.63">(</tspan><tspan x="24.67 36.11" dy="1.15">nm</tspan><tspan x="53.25" dy="-1.15" font-size="16.63">)</tspan></text><g transform="rotate(-90 38.8 683.05)"><text transform="translate(-15.93 683.05)" font-size="18.44" fill="#000"><tspan x="-0.62 10.32 24.83 35.72">PMF </tspan><tspan x="41.25" dy="-1.15" font-size="16.63">(</tspan><tspan x="47.77 55.51" dy="1.15">KJ</tspan><tspan x="64.6" dy="1.42" font-size="19.46">/</tspan><tspan x="71.08 87.38 98.2" dy="-1.42">mol</tspan><tspan x="103.7" dy="-1.15" font-size="16.63">)</tspan></text></g><text transform="translate(28.1 585.35)" font-size="18.44" fill="#000"><tspan x="-0.03">c</tspan><tspan x="10.6" dy="-1.15" font-size="16.63">)</tspan></text><text transform="translate(489.9 289.5)" font-size="18.44" fill="#000"><tspan x="0.32 12.12">Z </tspan><tspan x="17.66" dy="-1.15" font-size="16.63">(</tspan><tspan x="24.67 36.11" dy="1.15">nm</tspan><tspan x="53.25" dy="-1.15" font-size="16.63">)</tspan></text><g transform="rotate(-90 363.2 140.65)"><text transform="translate(308.47 140.65)" font-size="18.44" fill="#000"><tspan x="-0.62 10.32 24.83 35.72">PMF </tspan><tspan x="41.25" dy="-1.15" font-size="16.63">(</tspan><tspan x="47.77 55.51" dy="1.15">KJ</tspan><tspan x="64.6" dy="1.42" font-size="19.46">/</tspan><tspan x="71.08 87.38 98.2" dy="-1.42">mol</tspan><tspan x="103.7" dy="-1.15" font-size="16.63">)</tspan></text></g><text transform="translate(352.5 42.85)" font-size="18.44" fill="#000"><tspan x="0.29">d</tspan><tspan x="12.08" dy="-1.15" font-size="16.63">)</tspan></text><text transform="translate(489.9 560.7)" font-size="18.44" fill="#000"><tspan x="0.32 12.12">Z </tspan><tspan x="17.66" dy="-1.15" font-size="16.63">(</tspan><tspan x="24.67 36.11" dy="1.15">nm</tspan><tspan x="53.25" dy="-1.15" font-size="16.63">)</tspan></text><g transform="rotate(-90 363.2 411.95)"><text transform="translate(308.47 411.95)" font-size="18.44" fill="#000"><tspan x="-0.62 10.32 24.83 35.72">PMF </tspan><tspan x="41.25" dy="-1.15" font-size="16.63">(</tspan><tspan x="47.77 55.51" dy="1.15">KJ</tspan><tspan x="64.6" dy="1.42" font-size="19.46">/</tspan><tspan x="71.08 87.38 98.2" dy="-1.42">mol</tspan><tspan x="103.7" dy="-1.15" font-size="16.63">)</tspan></text></g><text transform="translate(352.5 314.25)" font-size="18.44" fill="#000"><tspan x="0.26">e</tspan><tspan x="11.74" dy="-1.15" font-size="16.63">)</tspan></text></svg>
</body></html>
